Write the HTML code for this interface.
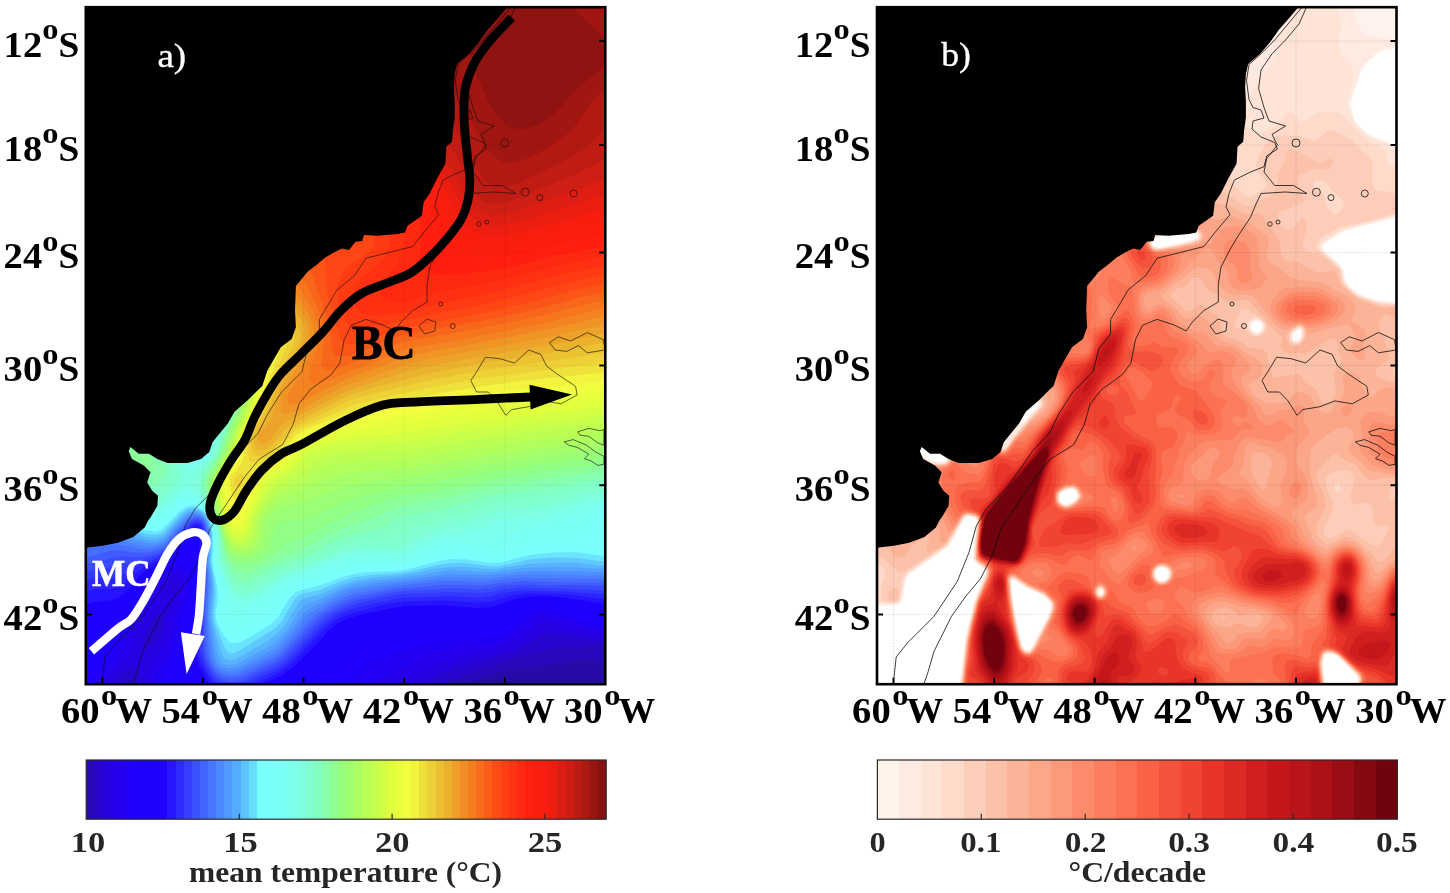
<!DOCTYPE html>
<html lang="en"><head><meta charset="utf-8"><title>Figure</title>
<style>html,body{margin:0;padding:0;background:#fff}svg{display:block}</style></head>
<body>
<svg width="1450" height="893" viewBox="0 0 1450 893">
<defs>
<clipPath id="ca"><rect x="85.8" y="7.2" width="519.5" height="677.0"/></clipPath>
<clipPath id="cb"><rect x="877.0" y="7.2" width="519.5" height="677.0"/></clipPath>
<linearGradient id="ga"><stop offset="0.0000" stop-color="#2808b4"/><stop offset="0.0156" stop-color="#2808b4"/><stop offset="0.0156" stop-color="#2805c8"/><stop offset="0.0312" stop-color="#2805c8"/><stop offset="0.0312" stop-color="#2802dc"/><stop offset="0.0469" stop-color="#2802dc"/><stop offset="0.0469" stop-color="#2600ea"/><stop offset="0.0625" stop-color="#2600ea"/><stop offset="0.0625" stop-color="#2300f2"/><stop offset="0.0781" stop-color="#2300f2"/><stop offset="0.0781" stop-color="#2000fb"/><stop offset="0.0938" stop-color="#2000fb"/><stop offset="0.0938" stop-color="#1e00ff"/><stop offset="0.1094" stop-color="#1e00ff"/><stop offset="0.1094" stop-color="#1e00ff"/><stop offset="0.1250" stop-color="#1e00ff"/><stop offset="0.1250" stop-color="#1e00ff"/><stop offset="0.1406" stop-color="#1e00ff"/><stop offset="0.1406" stop-color="#1f02ff"/><stop offset="0.1562" stop-color="#1f02ff"/><stop offset="0.1562" stop-color="#2716ff"/><stop offset="0.1719" stop-color="#2716ff"/><stop offset="0.1719" stop-color="#2f2bff"/><stop offset="0.1875" stop-color="#2f2bff"/><stop offset="0.1875" stop-color="#363eff"/><stop offset="0.2031" stop-color="#363eff"/><stop offset="0.2031" stop-color="#3c51ff"/><stop offset="0.2188" stop-color="#3c51ff"/><stop offset="0.2188" stop-color="#4364ff"/><stop offset="0.2344" stop-color="#4364ff"/><stop offset="0.2344" stop-color="#4876ff"/><stop offset="0.2500" stop-color="#4876ff"/><stop offset="0.2500" stop-color="#4c88ff"/><stop offset="0.2656" stop-color="#4c88ff"/><stop offset="0.2656" stop-color="#5199ff"/><stop offset="0.2812" stop-color="#5199ff"/><stop offset="0.2812" stop-color="#55abff"/><stop offset="0.2969" stop-color="#55abff"/><stop offset="0.2969" stop-color="#5dc3ff"/><stop offset="0.3125" stop-color="#5dc3ff"/><stop offset="0.3125" stop-color="#67ddff"/><stop offset="0.3281" stop-color="#67ddff"/><stop offset="0.3281" stop-color="#78ffff"/><stop offset="0.3438" stop-color="#78ffff"/><stop offset="0.3438" stop-color="#79fffb"/><stop offset="0.3594" stop-color="#79fffb"/><stop offset="0.3594" stop-color="#7bfff7"/><stop offset="0.3750" stop-color="#7bfff7"/><stop offset="0.3750" stop-color="#7cfff3"/><stop offset="0.3906" stop-color="#7cfff3"/><stop offset="0.3906" stop-color="#7dffec"/><stop offset="0.4062" stop-color="#7dffec"/><stop offset="0.4062" stop-color="#7fffdd"/><stop offset="0.4219" stop-color="#7fffdd"/><stop offset="0.4219" stop-color="#80ffce"/><stop offset="0.4375" stop-color="#80ffce"/><stop offset="0.4375" stop-color="#82ffc0"/><stop offset="0.4531" stop-color="#82ffc0"/><stop offset="0.4531" stop-color="#88ffa9"/><stop offset="0.4688" stop-color="#88ffa9"/><stop offset="0.4688" stop-color="#8fff92"/><stop offset="0.4844" stop-color="#8fff92"/><stop offset="0.4844" stop-color="#95ff7b"/><stop offset="0.5000" stop-color="#95ff7b"/><stop offset="0.5000" stop-color="#a0ff6e"/><stop offset="0.5156" stop-color="#a0ff6e"/><stop offset="0.5156" stop-color="#acff62"/><stop offset="0.5312" stop-color="#acff62"/><stop offset="0.5312" stop-color="#b8ff56"/><stop offset="0.5469" stop-color="#b8ff56"/><stop offset="0.5469" stop-color="#c4ff4c"/><stop offset="0.5625" stop-color="#c4ff4c"/><stop offset="0.5625" stop-color="#d2ff45"/><stop offset="0.5781" stop-color="#d2ff45"/><stop offset="0.5781" stop-color="#dfff3d"/><stop offset="0.5938" stop-color="#dfff3d"/><stop offset="0.5938" stop-color="#e9ff3e"/><stop offset="0.6094" stop-color="#e9ff3e"/><stop offset="0.6094" stop-color="#f1ff40"/><stop offset="0.6250" stop-color="#f1ff40"/><stop offset="0.6250" stop-color="#f2f33f"/><stop offset="0.6406" stop-color="#f2f33f"/><stop offset="0.6406" stop-color="#eee03c"/><stop offset="0.6562" stop-color="#eee03c"/><stop offset="0.6562" stop-color="#edcf37"/><stop offset="0.6719" stop-color="#edcf37"/><stop offset="0.6719" stop-color="#ecbe32"/><stop offset="0.6875" stop-color="#ecbe32"/><stop offset="0.6875" stop-color="#ebae2d"/><stop offset="0.7031" stop-color="#ebae2d"/><stop offset="0.7031" stop-color="#ee9e28"/><stop offset="0.7188" stop-color="#ee9e28"/><stop offset="0.7188" stop-color="#f18d24"/><stop offset="0.7344" stop-color="#f18d24"/><stop offset="0.7344" stop-color="#f47d1f"/><stop offset="0.7500" stop-color="#f47d1f"/><stop offset="0.7500" stop-color="#f76d1c"/><stop offset="0.7656" stop-color="#f76d1c"/><stop offset="0.7656" stop-color="#fa5d19"/><stop offset="0.7812" stop-color="#fa5d19"/><stop offset="0.7812" stop-color="#fd4c16"/><stop offset="0.7969" stop-color="#fd4c16"/><stop offset="0.7969" stop-color="#ff3e14"/><stop offset="0.8125" stop-color="#ff3e14"/><stop offset="0.8125" stop-color="#ff3412"/><stop offset="0.8281" stop-color="#ff3412"/><stop offset="0.8281" stop-color="#ff2911"/><stop offset="0.8438" stop-color="#ff2911"/><stop offset="0.8438" stop-color="#ff1f0f"/><stop offset="0.8594" stop-color="#ff1f0f"/><stop offset="0.8594" stop-color="#fb1e0f"/><stop offset="0.8750" stop-color="#fb1e0f"/><stop offset="0.8750" stop-color="#f71e0f"/><stop offset="0.8906" stop-color="#f71e0f"/><stop offset="0.8906" stop-color="#eb1e10"/><stop offset="0.9062" stop-color="#eb1e10"/><stop offset="0.9062" stop-color="#db1e13"/><stop offset="0.9219" stop-color="#db1e13"/><stop offset="0.9219" stop-color="#cc1d14"/><stop offset="0.9375" stop-color="#cc1d14"/><stop offset="0.9375" stop-color="#bc1b13"/><stop offset="0.9531" stop-color="#bc1b13"/><stop offset="0.9531" stop-color="#ac1812"/><stop offset="0.9688" stop-color="#ac1812"/><stop offset="0.9688" stop-color="#991511"/><stop offset="0.9844" stop-color="#991511"/><stop offset="0.9844" stop-color="#861110"/><stop offset="1.0000" stop-color="#861110"/></linearGradient>
<linearGradient id="gb"><stop offset="0.0000" stop-color="#fff2eb"/><stop offset="0.0417" stop-color="#fff2eb"/><stop offset="0.0417" stop-color="#feeae1"/><stop offset="0.0833" stop-color="#feeae1"/><stop offset="0.0833" stop-color="#fee4d7"/><stop offset="0.1250" stop-color="#fee4d7"/><stop offset="0.1250" stop-color="#fedaca"/><stop offset="0.1667" stop-color="#fedaca"/><stop offset="0.1667" stop-color="#fdceba"/><stop offset="0.2083" stop-color="#fdceba"/><stop offset="0.2083" stop-color="#fcc1a9"/><stop offset="0.2500" stop-color="#fcc1a9"/><stop offset="0.2500" stop-color="#fcb499"/><stop offset="0.2917" stop-color="#fcb499"/><stop offset="0.2917" stop-color="#fca68a"/><stop offset="0.3333" stop-color="#fca68a"/><stop offset="0.3333" stop-color="#fc997a"/><stop offset="0.3750" stop-color="#fc997a"/><stop offset="0.3750" stop-color="#fc8b6b"/><stop offset="0.4167" stop-color="#fc8b6b"/><stop offset="0.4167" stop-color="#fc7e5e"/><stop offset="0.4583" stop-color="#fc7e5e"/><stop offset="0.4583" stop-color="#fb7151"/><stop offset="0.5000" stop-color="#fb7151"/><stop offset="0.5000" stop-color="#f96245"/><stop offset="0.5417" stop-color="#f96245"/><stop offset="0.5417" stop-color="#f5523b"/><stop offset="0.5833" stop-color="#f5523b"/><stop offset="0.5833" stop-color="#f14331"/><stop offset="0.6250" stop-color="#f14331"/><stop offset="0.6250" stop-color="#e93529"/><stop offset="0.6667" stop-color="#e93529"/><stop offset="0.6667" stop-color="#dd2a24"/><stop offset="0.7083" stop-color="#dd2a24"/><stop offset="0.7083" stop-color="#d11e20"/><stop offset="0.7500" stop-color="#d11e20"/><stop offset="0.7500" stop-color="#c5161c"/><stop offset="0.7917" stop-color="#c5161c"/><stop offset="0.7917" stop-color="#b81419"/><stop offset="0.8333" stop-color="#b81419"/><stop offset="0.8333" stop-color="#ab1116"/><stop offset="0.8750" stop-color="#ab1116"/><stop offset="0.8750" stop-color="#9b0c14"/><stop offset="0.9167" stop-color="#9b0c14"/><stop offset="0.9167" stop-color="#860811"/><stop offset="0.9583" stop-color="#860811"/><stop offset="0.9583" stop-color="#71030e"/><stop offset="1.0000" stop-color="#71030e"/></linearGradient>
</defs>
<g clip-path="url(#ca)">
<rect x="85.8" y="7.2" width="519.5" height="677.0" fill="#280aaa"/>
<g transform="scale(0.5)">
<path fill="#2807bd" d="M166 8l1050 0 0 1334-16-20-8-4-12-1-24 2-48 9-60 6-36 6-22 6-32 12-14 6-9 6-769 0z"/>
<path fill="#2804cf" d="M166 8l1050 0 0 1288-12-4-12-1-48 1-18 1-48 10-78 22-48 15-46 18-12 6-7 6-721 0z"/>
<path fill="#2801e2" d="M166 8l1050 0 0 1274-66-9-42-7-12 0-6 1-12 5-33 20-21 10-102 29-30 11-33 16-10 6-6 6-559 0-4-24-6-9-6-2-12 4-12 7-14 12-8 12-56 0zM346 1171l-4 1-2 7 6 0 0-7zM322 1226l-6 1-6 4-6 8-7 11-5 14-5 16-1 6 3 6 3 4 6-1 12-10 6-7 6-11 5-17 1-12-2-6z"/>
<path fill="#2600ec" d="M166 8l1050 0 0 1264-60-11-54-16-12-1-6 1-12 6-30 25-24 13-30 10-78 17-30 9-34 15-42 24-7 6-498 0-1-18 3-18 6-12 20-30 5-12 4-18 5-36 2-6 13-24 4-12 2-12-1-12-3-6-6-2-6 0-6 3-7 5-5 6-5 12-7 24-30 45-12 22-14 35-12 18-29 30-14 18-39 0z"/>
<path fill="#2200f4" d="M166 8l1050 0 0 1254-54-11-60-19-12-2-6 0-7 2-11 6-36 30-18 11-12 4-18 5-84 11-36 9-21 8-33 19-42 19-17 10-6 6-431 0 0-12 1-12 5-12 16-26 6-16 6-24 2-30 4-10 10-20 5-18 3-18-1-18-5-13-6-1-6 1-12 6-11 7-6 6-7 12-12 30-32 48-10 18-14 30-17 24-44 48-21 0z"/>
<path fill="#1f00fc" d="M166 8l1050 0 0 1246-42-9-72-22-12-3-6 1-12 3-12 6-36 29-12 8-12 5-18 4-18 2-84 5-24 3-18 5-42 15-36 9-12 5-15 8-24 24-9 6-30 8-12 4-331 0-2-12 1-6 2-6 14-24 6-18 9-36 1-26 1-4 8-12 3-8 6-43 1-21-1-19-2-5-4-7-6 1-30 20-12 9-6 7-8 12-13 30-37 54-20 36-16 24-14 18-12 12-18 13-12 7z"/>
<path fill="#1e00ff" d="M166 8l1050 0 0 1238-24-5-90-26-12-1-12 0-18 6-11 6-37 29-12 5-12 3-30 3-60-2-36 2-27 2-51 8-42 5-24 5-12 5-6 4-24 28-12 11-17 12-28 18-7 6-257 0-5-12 1-12 16-78 4-12 8-18-1-30 4-48 1-24-3-30-4-6-6 4-19 20-29 22-9 8-9 12-15 30-8 12-39 54-39 60-7 9-12 9-12 7-6 2z"/>
<path fill="#1e00ff" d="M166 8l1050 0 0 1229-18-3-78-21-23-5-13 0-12 1-18 6-18 9-30 22-18 6-24 2-72-5-42 0-36 3-87 10-25 6-14 8-10 10-25 30-13 12-21 18-25 18-7 6-204 0-12-30-3-24 1-18 3-18 6-18 8-18 1-6-4-24 0-12 6-60-1-48-2-6-4-3-6 2-6 5-16 20-11 12-25 18-13 12-9 12-16 30-18 26-32 34-9 12-30 48-13 12-12 5z"/>
<path fill="#1e00ff" d="M166 8l1050 0 0 1221-12-2-42-12-36-8-30-4-18 0-18 2-18 6-17 9-25 17-12 3-24 1-72-6-54 0-42 3-66 10-30 7-18 9-12 10-30 36-26 24-14 12-26 18-6 6-170 0-18-42-3-12 0-12 2-24 10-30 2-12-4-36 6-60-1-24 1-30-1-6-4-8-6 1-6 4-12 13-22 26-8 8-24 16-13 12-41 61-12 12-35 23-7 6-8 12-15 30-7 8-6 3z"/>
<path fill="#1e00ff" d="M166 8l1050 0 0 1211-84-17-30-4-24-1-18 2-18 4-15 5-27 14-18 6-24 0-72-6-54 1-36 2-43 7-53 12-12 5-12 7-12 11-30 33-36 36-18 14-32 20-139 0-20-42-4-12-2-12 2-24 9-36-3-42 6-60-2-24 2-30-1-12-2-12-6 0-6 3-12 11-30 37-12 10-24 15-11 8-10 12-27 38-12 13-6 4-12 6-30 7-12 4-18 13z"/>
<path fill="#2613ff" d="M166 8l1050 0 0 1201-84-13-30-3-36-1-30 5-19 5-23 9-18 4-24 1-60-5-78 1-24 3-66 14-30 9-12 5-12 7-13 12-23 25-48 48-18 13-31 16-8 6-111 0-22-42-4-12-3-18 1-18 8-36-3-42 5-60-2-24 2-48 0-7-2-5-4-3-6 1-12 10-12 14-18 23-12 12-44 27-13 12-21 26-18 15-6 3-12 3-30 3-24 6z"/>
<path fill="#2d26ff" d="M166 8l1050 0 0 1191-84-10-72-2-32 3-46 13-18 2-18 0-42-3-18-1-78 2-32 5-64 16-18 6-19 8-11 8-12 10-64 66-13 12-19 13-36 17-7 6-86 0-12-18-13-24-5-12-2-12 0-18 5-42-2-42 5-54-2-30 3-48-2-12-2-6-6-3-9 3-15 15-24 30-12 12-12 9-36 18-16 12-14 15-12 8-18 6-36 2-24 4z"/>
<path fill="#3439ff" d="M166 8l1050 0 0 1182-84-7-84-2-31 3-35 8-18 3-18 0-48-3-96 4-62 12-24 6-22 8-18 8-13 8-21 18-64 66-10 9-15 9-37 18-19 12-60 0-13-14-7-10-12-24-5-18-1-18 4-42-1-42 4-54-2-36 2-42 0-13-2-5-4-5-6-2-6 1-6 5-18 18-24 30-12 10-12 7-36 14-30 17-12 5-18 4-30 1-24 5z"/>
<path fill="#3a4bff" d="M166 8l1050 0 0 1173-84-4-36 0-54-2-30 3-36 7-18 1-60-2-96 4-18 3-54 12-24 7-18 7-18 9-12 8-20 16-64 68-18 14-78 37-4 1-21 0-17-10-12-12-14-26-5-18-1-18 2-36-1-42 3-60-2-30 3-48-2-18-4-6-3-3-6-2-6 2-6 3-18 18-24 30-12 10-12 7-36 11-60 13-54 9z"/>
<path fill="#405cff" d="M166 8l1050 0 0 1164-84-2-36 1-36-2-24 0-30 3-42 6-18 0-48-2-54 4-42 2-18 3-60 13-18 5-18 7-18 9-21 13-21 18-56 60-16 14-66 33-18 5-12 1-12-3-6-2-12-10-6-8-7-12-5-12-3-12-1-18-1-72 4-60-3-36 3-54-2-12-2-6-6-6-7-2-6 1-6 3-18 18-24 29-12 10-12 7-18 5-18 2-18 1-18-1-12 1-42 12-24 3z"/>
<path fill="#466eff" d="M166 8l1050 0 0 1157-120-1-54-2-24 2-54 7-72-2-48 5-48 3-72 14-24 7-18 8-24 13-20 13-14 12-56 62-18 15-60 29-18 5-12 1-12-2-6-3-12-9-6-9-5-11-5-18-2-18-2-60 3-66-3-42 3-36 0-18-2-12-7-12-4-3-6-2-6 1-6 3-21 19-27 33-6 4-12 6-18 4-18 0-12 0-24-4-12-1-12 2-36 10-18 1z"/>
<path fill="#4a7fff" d="M166 8l1050 0 0 1150-78-1-42 0-48-1-18 0-66 8-54-2-18 0-102 10-72 14-18 5-18 8-24 13-24 15-14 11-58 66-12 9-66 32-12 4-12 1-12-2-6-3-6-4-6-6-7-13-5-18-5-72 3-60 0-18-4-36 3-36 0-18-3-16-6-10-6-4-6-2-6 0-6 3-20 17-28 34-12 8-12 3-12 2-18-1-42-8-12-1-18 1-24 4-18-2z"/>
<path fill="#4e8fff" d="M166 8l1050 0 0 1144-78-2-84-1-24 1-36 5-24 2-72-2-108 12-42 6-30 6-24 7-18 8-42 24-12 8-8 6-19 24-33 38-11 10-7 5-65 31-13 4-12-1-12-4-7-5-7-12-5-18-8-72 4-60-1-18-4-30 3-42 0-18-4-18-7-11-6-4-6-2-6 0-6 2-6 4-18 17-26 30-10 7-18 4-12 0-18-3-78-20-12-6-18-16z"/>
<path fill="#52a0ff" d="M166 8l1050 0 0 1137-78-3-72 0-30 2-54 6-84-2-72 10-72 8-36 7-18 4-18 7-66 35-8 7-17 24-16 18-25 28-12 8-54 27-12 5-12 1-6 0-8-3-9-6-4-6-4-12-11-72 0-12 4-48-2-24-4-30 3-54-2-18-5-12-5-6-7-6-6-2-6 0-6 1-6 4-12 10-12 13-18 22-6 5-12 5-18 1-18-3-18-5-36-13-15-8-15-12-18-25-6-6-6-3z"/>
<path fill="#58b3ff" d="M166 8l1050 0 0 1130-18 0-54-4-24 0-66 1-66 9-24 0-42-3-24 0-24 3-48 9-78 8-36 6-30 10-42 21-24 8-6 4-11 10-14 24-11 15-27 27-15 11-60 31-12 2-6-1-6-2-6-4-6-13-15-72 0-12 4-48-1-18-6-36 3-54-3-20-4-10-4-6-10-9-6-2-12 1-9 4-9 8-16 16-14 18-8 6-4 3-12 3-18-1-17-5-16-6-21-9-14-9-16-14-25-34-7-6-10-4z"/>
<path fill="#5fc9ff" d="M166 8l1050 0 0 1123-18 0-48-6-30 0-66 3-60 10-18 0-48-4-24 0-30 3-60 12-72 7-30 5-30 9-42 19-30 7-6 3-6 5-6 9-14 25-8 12-14 15-18 15-51 30-15 8-12 2-6-1-6-3-6-12-18-66 0-12 4-42-2-24-6-36 2-54-1-12-3-12-6-13-6-6-6-5-6-2-12 0-7 2-11 9-36 38-6 4-12 3-18-2-29-10-13-6-17-12-19-18-24-32-12-9-12-5z"/>
<path fill="#6be4ff" d="M166 8l1050 0 0 1114-18 0-42-6-30-1-36 1-30 3-18 4-36 8-12 2-18-1-48-6-24 0-24 3-54 13-18 3-66 5-36 5-24 8-42 17-30 6-12 5-7 5-5 7-16 29-7 12-13 13-66 41-11 6-7 3-6-1-6-3-6-10-17-43-3-12-1-12 4-30 0-12-1-18-8-42 2-36 0-18-4-24-8-16-6-6-12-7-6-2-12 2-6 4-10 7-32 35-6 4-12 3-18-2-25-10-23-14-17-16-24-30-11-12-14-10-12-5z"/>
<path fill="#78fffe" d="M166 8l1050 0 0 1103-18 0-48-7-42 1-48 5-18 4-34 10-14 2-18-1-42-6-30-1-30 5-48 13-18 4-18 2-54 2-30 4-24 7-42 16-36 9-12 4-13 12-21 36-5 6-9 9-48 29-18 9-12 2-6-2-6-5-12-18-6-13-4-11-1-12 4-24 0-18-2-18-7-30-1-12 1-36-1-24-4-18-3-9-6-10-6-7-12-7-12-2-6 2-6 2-10 7-26 27-12 11-12 3-18-2-21-9-18-12-20-18-24-30-11-12-14-11-12-6-6-2z"/>
<path fill="#7afffa" d="M166 8l1050 0 0 1081-18 3-54-2-54 5-36 7-42 14-12 3-16-1-50-8-18-1-18 1-30 7-43 13-17 5-18 2-54 0-30 4-24 7-42 15-36 9-12 4-12 8-6 6-24 34-9 8-9 8-36 21-18 8-12 1-6-2-6-4-6-7-6-9-6-16 3-42-3-24-9-36 1-48-2-24-3-12-5-13-6-9-6-7-6-5-12-5-12 1-6 2-10 6-26 26-12 10-12 4-6 0-12-3-16-7-18-12-19-18-25-30-12-13-18-14-12-6-6-2z"/>
<path fill="#7bfff7" d="M166 8l1050 0 0 1038-12 4-18 11-18 7-102 18-18 6-36 14-12 3-12 0-54-8-30 0-18 2-18 5-44 16-22 6-12 1-54-1-24 3-18 4-54 18-42 11-12 6-18 12-24 29-12 11-12 9-30 16-18 6-6 0-6-2-6-4-6-6-5-11-1-6 3-24-1-12-4-24-10-36 0-48-2-24-8-24-8-14-6-6-6-6-12-6-12 0-6 2-12 7-36 32-12 5-14-2-16-6-17-12-13-12-31-36-17-17-18-14-12-6-6-2zM394 821l-6 2-6 5-6 8-5 12-1 12 3 18 5 12 4 5 6 5 6 2 6-1 6-3 4-8 3-12 1-24 0-12-3-12-5-7-6-2z"/>
<path fill="#7cfff3" d="M166 8l1050 0 0 1017-18 3-36 18-18 7-90 22-54 21-18 0-30-5-18-2-30 2-18 3-18 5-47 19-19 6-12 1-54-3-18 2-24 4-60 21-36 10-18 7-17 12-25 25-12 10-12 8-12 6-18 6-12 3-6 0-8-4-3-6-1-4-2-20-6-30-13-42-1-48-4-30-4-13-6-13-12-16-12-10-6-3-6-2-6 0-6 2-12 7-37 30-11 5-6 0-12-3-14-8-16-12-42-47-18-17-18-13-18-8zM400 799l-9 1-9 4-12 11-9 15-4 18 1 19 7 23 5 10 6 8 6 5 6 2 6 1 12-5 6-5 5-10 4-18 5-36 0-18-4-12-4-6-6-4z"/>
<path fill="#7dffed" d="M166 8l1050 0 0 1002-12 1-18 5-42 17-24 8-84 20-42 14-18 2-54 0-18 2-18 4-24 7-47 22-13 5-12 1-36-3-24-1-18 2-24 5-59 21-49 17-18 10-30 25-18 12-18 7-12 1-12-4-6-5-6-8-6-14-19-53-2-54-2-18-3-12-10-24-6-9-12-14-12-9-6-3-6 0-6 1-12 7-36 29-12 4-12-1-13-5-17-13-12-11-36-40-18-17-18-13-18-8zM406 784l-6-1-12 2-8 3-10 7-6 6-9 11-6 12-3 12-1 12 0 12 3 12 6 18 9 18 7 10 6 6 6 3 6 1 12-4 12-9 6-7 5-12 12-60 1-18 0-7-5-11-4-6-7-6z"/>
<path fill="#7fffdf" d="M166 8l1050 0 0 988-18 3-18 4-54 18-30 8-42 7-48 4-12 3-30 13-78 14-30 10-38 20-16 7-12 2-42-4-18 0-24 3-18 4-24 8-41 16-49 17-18 10-30 23-12 7-12 5-12 2-12-3-6-3-6-5-7-11-20-48-4-60-2-12-6-18-7-18-8-14-24-29-6-4-6-2-6 2-12 8-24 22-12 8-12 4-12-1-12-5-18-14-44-47-22-20-18-13-18-8zM412 771l-12-1-12 2-12 4-12 8-11 10-9 12-6 12-3 12-1 12 1 18 2 12 6 18 9 18 12 20 12 15 6 1 6-1 12-9 18-18 6-8 6-18 14-60 1-18-2-12-2-6-5-8-6-6-6-4z"/>
<path fill="#80ffd1" d="M166 8l1050 0 0 975-42 7-60 16-30 6-30 4-42 3-18 3-48 18-60 14-24 8-24 11-30 18-12 4-12 1-36-2-18 0-18 2-18 4-30 10-48 21-48 16-18 10-30 20-18 9-12 2-6-1-12-5-6-6-6-9-17-37-2-12-5-48-5-24-9-24-25-42-3-12 1-12 2-6 8-12 19-23 7-13 21-78 1-18-2-12-5-12-10-12-12-7-12-4-12-1-18 4-18 8-12 9-12 13-9 14-5 12-3 12-1 12 2 18 3 12 6 18 23 48 3 12 0 6-5 12-9 12-11 12-12 8-12 4-6 0-6-1-12-6-18-14-42-44-18-17-24-17-18-8z"/>
<path fill="#81ffc4" d="M166 8l1050 0 0 962-48 7-84 17-72 8-30 6-54 18-84 23-18 7-30 16-12 4-60 5-24 5-18 5-24 10-50 23-46 16-17 8-31 20-12 5-12 3-6-1-6-2-6-3-12-17-13-23-3-12-6-48-4-18-10-31-20-41-3-12 2-12 5-12 21-30 5-12 25-84 1-18-3-12-5-12-10-14-12-9-12-4-18-2-18 3-18 8-18 12-13 12-12 18-6 12-3 12-2 12 1 18 3 12 5 18 23 48 3 12 0 6-4 12-7 12-7 6-11 7-6 1-12 0-6-2-12-7-18-16-36-38-18-17-24-15-18-8z"/>
<path fill="#86ffb1" d="M166 8l1050 0 0 948-54 7-84 15-84 11-24 6-84 23-82 16-8 3-24 14-12 5-60 15-30 10-24 12-42 22-36 11-12 5-42 23-12 6-12 2-6 0-6-2-6-5-12-15-9-16-3-10-12-62-10-30-16-36-3-12 0-12 4-12 6-12 16-24 5-12 13-42 10-30 5-18 1-12-4-18-8-18-10-12-15-10-18-5-18 0-18 4-18 8-18 12-16 15-13 18-6 12-6 18-2 18 1 12 7 24 23 54 2 12-4 12-4 7-9 5-9 3-6-1-6-1-12-7-18-15-36-39-12-11-24-15-12-6-12-4z"/>
<path fill="#8cff9b" d="M166 8l1050 0 0 934-60 7-162 25-30 5-84 21-84 14-18 7-36 16-48 17-24 10-24 12-44 24-40 15-54 27-12 4-12-1-6-2-12-9-6-7-8-15-4-13-10-47-10-30-14-36-2-12 0-12 4-12 5-12 15-24 6-12 30-91 0-17-6-24-6-14-12-14-12-9-18-6-18-1-18 3-24 9-18 11-19 15-16 18-8 12-9 18-5 18-2 12 1 12 2 12 4 12 16 34 3 14 1 6-2 6-2 5-6 3-6 0-6-1-12-7-13-12-25-30-16-14-24-13-18-7-12-3z"/>
<path fill="#92ff85" d="M166 8l1050 0 0 919-78 9-150 23-108 22-72 11-24 5-40 13-50 20-30 14-54 28-36 15-42 29-18 10-12 3-12 1-12-2-12-6-6-6-8-16-12-48-20-60-4-18 1-12 3-12 6-12 14-24 5-12 14-42 14-36 5-18-1-18-5-23-9-19-9-12-12-9-12-5-12-3-12-1-12 1-18 4-18 7-18 9-14 9-14 12-22 24-18 30-16 39-6 8-6 3-6 0-12-2-60-15z"/>
<path fill="#9aff74" d="M166 8l1050 0 0 903-102 13-138 20-108 20-90 14-36 8-48 16-66 29-18 7-12 2-24 0-12 3-7 3-5 6-6 24-5 12-9 12-7 6-15 9-12 3-18-1-12-5-6-6-6-10-10-38-21-66-3-18 1-12 3-12 25-48 13-42 17-42 3-12 0-24-5-24-5-13-6-11-11-12-7-5-12-6-18-4-24 0-12 3-18 5-30 15-16 10-15 12-24 24-35 45-12 9-12 4-12 1-42-5z"/>
<path fill="#a6ff68" d="M166 8l1050 0 0 887-156 20-108 16-114 20-102 13-42 9-24 8-48 19-48 12-18 7-12 9-11 12-2 6-2 24-3 12-6 11-6 6-12 7-12 3-12 0-12-5-6-6-6-11-26-89-4-24 1-12 3-12 24-48 14-42 18-42 2-12 1-24-5-30-4-13-6-11-12-15-6-5-12-6-12-4-12-1-24 1-30 8-30 13-30 19-24 20-36 36-18 14-12 5-12 3-18 0-18-1z"/>
<path fill="#b1ff5d" d="M166 8l1050 0 0 871-144 18-138 20-114 18-108 10-24 3-18 5-18 6-42 20-36 13-18 9-18 16-14 17-4 12-1 18-3 12-2 7-6 8-12 8-12 2-12-1-6-4-6-6-4-8-15-42-11-48-3-18 1-12 3-12 25-48 11-36 18-42 6-18 1-30-4-30-3-12-5-12-8-12-6-6-8-6-10-5-12-4-12-2-24 0-30 7-30 12-30 16-26 18-46 38-18 12-12 5-12 3-12 2-18 0z"/>
<path fill="#bcff52" d="M166 8l1050 0 0 855-144 17-144 20-108 17-30 3-90 5-24 3-18 4-18 7-36 23-41 18-13 10-12 13-19 25-5 12-5 30-6 12-7 7-12 5-12-1-6-4-6-7-18-48-9-42-2-18 1-12 3-12 22-42 14-42 18-42 5-18 3-36-3-30-7-24-3-6-9-12-15-12-12-5-12-3-12-1-18 0-30 6-30 10-35 17-29 18-50 35-18 10-24 8-24 2z"/>
<path fill="#c8ff4a" d="M166 8l1050 0 0 838-156 18-138 19-108 17-114 6-30 4-24 5-18 9-35 26-37 20-12 10-12 16-18 30-6 14-5 24-6 12-6 6-7 4-6 0-6-1-6-4-6-9-16-38-9-48 0-18 4-18 22-42 13-42 19-42 5-18 4-36-1-36-6-24-5-11-6-8-6-6-12-8-12-6-12-3-12-1-18 0-30 5-30 10-36 16-35 18-49 31-18 9-24 8-24 3z"/>
<path fill="#d4ff43" d="M166 8l1050 0 0 822-174 19-120 16-114 18-78 4-36 3-38 6-22 6-12 6-6 4-30 28-38 22-10 9-6 8-24 47-13 38-5 8-6 4-6 2-7-2-5-4-6-9-13-29-8-48-1-18 4-18 20-36 5-12 13-42 19-42 4-18 5-42 0-36-2-12-4-12-6-11-5-7-7-6-12-8-12-5-12-3-24-2-30 4-30 8-36 14-114 57-24 8-24 4z"/>
<path fill="#e1ff3c" d="M166 8l1050 0 0 805-204 22-96 13-114 18-90 7-54 10-30 7-12 6-6 4-24 26-12 10-34 20-8 7-6 9-23 50-13 36-6 7-6 3-6-1-6-5-6-8-10-20-2-9-6-39 0-18 2-12 4-10 20-38 13-42 19-42 7-24 7-48 2-36-1-12-3-12-4-10-6-8-6-6-12-9-12-6-12-4-12-2-18-1-30 3-30 7-30 11-36 16-66 31-24 10-24 7-24 4z"/>
<path fill="#e9ff3e" d="M166 8l1050 0 0 788-174 17-54 6-180 29-90 10-66 14-30 8-10 4-8 6-20 24-16 15-34 21-8 8-7 10-29 72-6 11-6 5-6 0-6-4-9-12-5-12-6-42 0-18 4-18 17-30 6-12 12-42 22-48 7-30 10-54 2-30-1-12-4-12-7-12-5-6-7-7-12-7-24-9-12-3-18-1-30 3-24 5-30 10-132 54-30 9-24 3z"/>
<path fill="#f2ff40" d="M166 8l1050 0 0 771-198 19-54 7-162 28-78 10-30 7-77 22-13 6-6 6-20 24-12 12-10 8-27 16-9 9-6 10-12 32-18 40-6 8-6 2-6-3-6-7-4-13-6-42 0-18 4-12 21-36 13-48 20-42 11-36 15-66 3-24 0-12-3-12-7-12-4-6-9-8-12-8-24-10-13-4-17-2-30 1-24 5-24 7-102 40-42 15-30 8-30 3z"/>
<path fill="#f2f43f" d="M166 8l1050 0 0 754-210 21-132 21-156 27-96 31-12 5-12 7-6 5-19 23-12 12-11 10-24 14-9 6-8 12-13 35-12 25-6 10-6 4-6-3-6-19-6-34 1-12 5-14 15-22 6-12 9-42 6-14 14-28 7-18 27-96 4-18 2-18-3-12-3-6-8-12-10-10-11-8-25-12-12-3-18-3-18-1-18 1-24 4-24 7-84 32-54 18-36 9-36 4z"/>
<path fill="#eee13c" d="M166 8l1050 0 0 736-174 18-72 9-126 22-114 23-30 8-84 32-12 6-12 8-36 40-12 9-30 17-6 6-6 8-11 30-7 14-6 7-6 1-6-8-6-20 0-12 1-6 5-8 13-16 7-12 3-12 3-30 4-11 24-49 18-56 23-70 2-12 0-12-5-12-9-12-11-11-12-9-12-7-18-8-12-3-18-4-30 0-24 3-30 7-84 33-48 15-42 9-42 4z"/>
<path fill="#edd137" d="M166 8l1050 0 0 717-204 25-54 7-108 20-138 31-18 7-96 42-13 9-26 30-15 14-12 7-12 5-12 3-6 0-4-5-2-17 0-19 2-12 5-12 20-36 21-60 27-66 6-18 0-12-3-12-13-18-17-16-24-16-24-10-30-6-30 0-24 3-24 7-24 8-60 24-42 13-48 9-24 3-24 0zM484 947l3 3 0 6-3 12-6 8-6-1-3-7-1-6 2-6 8-7z"/>
<path fill="#ecc233" d="M166 8l1050 0 0 696-60 10-180 25-42 7-90 18-132 32-18 7-102 49-12 9-31 35-11 9-12 5-6 1-6 0-6-3-4-6-3-12 0-12 4-12 24-42 21-58 32-68 5-12 3-12-1-12-8-18-15-18-20-18-26-16-24-9-30-5-30 0-24 4-24 6-24 9-54 22-36 11-54 10-24 1-30 1z"/>
<path fill="#ebb22e" d="M166 8l1050 0 0 675-78 16-180 29-96 18-42 10-108 29-24 10-102 52-17 13-19 24-12 11-12 5-6 0-6-2-6-11 0-15 6-12 13-18 7-12 21-60 38-72 5-12 3-12 0-6-2-12-9-18-16-20-24-22-24-15-24-10-30-6-30 0-24 3-30 8-30 11-48 21-30 9-30 5-30 3-24 1-30-1z"/>
<path fill="#eda32a" d="M166 8l1050 0 0 657-90 20-180 31-96 18-36 9-96 30-36 14-59 31-48 24-16 12-15 22-6 6-6 4-6 2-6-2-5-8 0-6 3-6 16-18 8-12 4-12 6-24 6-18 10-19 32-59 7-18 3-12-2-18-4-12-6-12-12-16-12-14-24-22-24-14-24-9-30-6-30 1-24 3-30 8-30 11-50 22-22 7-30 5-30 2-30 1-30-3z"/>
<path fill="#f09426" d="M166 8l1050 0 0 640-18 3-84 20-96 18-156 28-42 10-120 41-30 14-67 36-17 7-12 3-6-1-5-3-1-3-1-15 2-12 7-18 25-42 15-30 8-24 1-18-3-12-6-16-18-27-18-22-12-12-24-17-18-9-24-7-24-3-30 1-24 3-30 8-30 11-54 24-24 7-24 3-30 1-30-1-30-4z"/>
<path fill="#f38421" d="M166 8l1050 0 0 624-24 4-78 19-84 17-177 32-33 8-24 7-108 42-48 23-41 22-13 4-6-1-3-3-2-6 0-6 5-12 24-40 16-38 7-24 1-12-1-12-3-12-7-18-11-18-14-20-12-15-12-13-12-10-12-8-18-9-24-7-24-4-30 0-30 5-30 7-30 11-54 23-24 7-24 3-30 0-24-2-36-5z"/>
<path fill="#f6751d" d="M166 8l1050 0 0 607-30 6-90 23-84 18-198 36-18 6-58 24-80 32-18 6-12 1-6-1-3-2-2-6 3-18 13-42 4-18-1-24-4-18-4-12-9-18-21-34-12-17-18-19-12-9-12-7-18-7-24-6-24-3-30 1-24 3-30 7-30 9-60 24-30 7-24 2-24 0-24-3-36-6z"/>
<path fill="#f8661b" d="M166 8l1050 0 0 591-42 9-90 23-89 19-187 34-18 6-54 25-36 13-30 10-12 2-6-1-6-3-4-8 6-42-1-24-4-24-9-24-26-54-16-24-18-18-12-8-12-6-18-7-24-5-24-3-30 1-30 3-30 6-30 9-60 21-31 7-23 2-24-1-24-3-36-8z"/>
<path fill="#fb5618" d="M166 8l1050 0 0 574-54 12-84 23-96 21-180 33-18 6-66 29-18 5-18 2-6-1-6-3-6-11-5-42-6-24-29-84-8-18-7-12-11-12-12-9-18-10-24-8-24-5-24-3-30 0-30 2-36 7-30 7-66 20-36 6-18 1-24-2-24-4-36-9z"/>
<path fill="#fe4715" d="M166 8l1050 0 0 557-66 15-78 22-96 22-174 33-24 7-54 20-12 4-12 1-12-3-6-6-6-15-22-81-3-24-2-42-5-18-8-12-7-6-23-12-26-8-24-6-30-4-36-1-36 1-36 5-36 6-78 19-36 4-18 0-24-2-24-5-36-11z"/>
<path fill="#ff3b13" d="M166 8l1050 0 0 540-72 16-75 20-99 25-78 14-102 22-54 14-12 2-12-1-6-1-6-4-6-8-5-9-11-30-2-12-1-12 1-12 3-12 9-18 12-12 36-25 6-6 6-11 1-6-1-11-6-12-12-12-12-6-18-5-18-2-60-1-84-4-48 0-60 5-36 5-84 15-24 2-18 1-18-2-24-4-60-18z"/>
<path fill="#ff3112" d="M166 8l1050 0 0 522-90 19-156 41-84 16-72 18-18 3-30 3-18 1-12-1-13-4-8-6-4-6-5-12 0-11 1-7 5-12 8-12 34-30 15-18 8-18 3-12 1-12-1-12-4-12-10-17-14-13-10-6-12-6-12-3-18-4-18-1-24 0-198 13-48 4-78 10-42 2-30-2-24-4-72-23z"/>
<path fill="#ff2810" d="M166 8l1050 0 0 503-108 22-78 21-54 12-102 19-60 17-12 3-12-1-10-2-12-6-5-6-1-6 0-6 5-12 25-36 11-24 4-12 3-18 0-18-1-12-4-12-5-12-14-18-20-16-24-12-18-6-18-4-18-2-24 0-30 2-84 11-48 5-144 11-48 0-30-2-30-6-84-27z"/>
<path fill="#ff1e0f" d="M166 8l1050 0 0 482-36 8-84 16-66 18-36 7-36 5-36 4-30 1-24-1-12-3-5-3-6-6-2-6-3-18 2-42-2-24-4-18-10-21-18-21-22-18-26-15-24-9-18-5-18-3-18-1-24 0-36 3-84 14-48 5-84 5-66 0-36-3-36-7-36-10-66-23z"/>
<path fill="#fb1e0f" d="M166 8l1050 0 0 459-42 10-84 17-54 14-24 5-18 2-24 1-24 0-18-2-12-3-12-5-12-9-6-8-9-19-11-42-7-18-11-18-16-18-20-18-25-18-27-14-24-9-36-7-18-2-24 0-42 4-90 16-36 4-60 2-60-2-48-5-42-9-42-13-72-26z"/>
<path fill="#f71e0f" d="M166 8l1050 0 0 434-48 13-72 16-54 14-24 5-30 3-18-1-18-3-12-4-12-5-12-8-7-8-11-18-17-42-6-12-14-18-23-25-24-21-24-17-24-13-24-9-18-6-24-4-24-3-24 0-48 5-84 16-24 3-48 1-54-4-49-7-50-12-45-15-84-32z"/>
<path fill="#ec1e10" d="M166 8l1050 0 0 407-48 15-138 37-30 4-18 0-12-1-12-3-12-5-12-8-9-8-13-18-20-42-12-19-24-29-24-24-18-15-24-17-24-13-24-10-24-7-24-5-24-2-24-1-48 4-96 16-30 1-30-1-42-5-42-8-42-11-44-16-94-39-12-4z"/>
<path fill="#de1e12" d="M166 8l1050 0 0 378-54 20-132 40-18 4-18 1-18-1-12-3-18-9-16-16-8-13-21-41-12-18-21-29-24-27-24-22-24-18-24-14-24-11-24-8-24-6-24-3-24-2-48 2-84 9-30 2-36-1-42-5-46-11-44-14-48-19-96-42-12-3z"/>
<path fill="#cf1e14" d="M166 8l1050 0 0 346-54 23-72 25-60 22-30 6-18 0-12-2-12-6-6-4-12-12-40-74-20-30-24-30-18-19-24-21-18-13-24-15-24-11-24-8-24-6-24-4-24-3-30-1-108 5-42-1-30-4-24-4-54-14-50-19-112-49-24-10-12-3z"/>
<path fill="#c01c13" d="M166 8l1050 0 0 307-31 17-24 12-129 54-19 6-13 3-12 1-12-2-12-5-6-5-6-8-28-56-18-30-23-36-23-30-22-24-24-21-24-17-24-14-18-8-24-8-24-7-30-5-48-5-126-3-42-6-39-8-33-9-36-13-132-56-30-11-18-5z"/>
<path fill="#b21912" d="M301 8l915 0 0 237-6 7-15 20-11 12-16 14-26 16-46 24-60 28-18 6-12 2-12 1-6-1-12-6-12-15-58-105-20-31-18-24-18-20-24-23-24-19-24-14-18-9-24-9-24-7-30-7-48-6-126-10-36-6-30-6-36-9-42-13-53-21z"/>
<path fill="#a11611" d="M520 8l696 0 0 170-12 7-11 9-10 12-21 31-14 17-16 16-19 14-35 22-30 13-24 6-18-1-8-4-10-7-18-22-18-31-39-72-21-34-18-25-12-15-16-16-14-12-17-12-19-11-24-11-24-8-30-8-48-8-120-14z"/>
<path fill="#8f1310" d="M880 8l261 0 9 12 18 18 48 43 0 49-48 35-18 17-36 40-24 19-18 10-18 6-18 1-12-2-12-7-12-11-12-16-13-22-23-54-10-30-13-48-4-12-7-12-14-17z"/>
</g>
<path d="M85.8,41.1H605.3M85.8,145.1H605.3M85.8,252.6H605.3M85.8,365.4H605.3M85.8,485.2H605.3M85.8,614.5H605.3M102.3,7.2V684.2M202.9,7.2V684.2M303.5,7.2V684.2M404.2,7.2V684.2M504.8,7.2V684.2" fill="none" stroke="#000" stroke-width="0.7" stroke-opacity="0.16" stroke-dasharray="1.2 1.6"/>
<polygon fill="#000" points="85.8,7.2 506,6 506,8.4 497.6,18.5 487.5,30 479,42 469,53.7 457,64 454.7,74 453.9,87 454.7,100.8 454.7,117.6 453,130 452,141.8 446.3,146.8 445.4,163.6 437,178.7 429.5,193.8 423.6,202.2 421.9,215.7 407.6,225.7 405,232.5 397.6,234 377.4,235.8 364,235 362.3,240.9 355.6,241.7 348.9,250 342,248.4 333.7,252.6 325.3,257.6 317,264.4 307.6,271.8 295.9,286 295,310.4 295.9,327.2 291.7,338.9 280.8,347.3 274,359 267.3,370.8 262.3,386 258,390 248,400 234.5,411.8 227.8,423.6 219.4,433.7 212.7,442 209.3,452 201,458.9 187.5,463 167.3,463 157.3,458.9 148.9,453.8 138.8,453.8 130.4,447 128.7,451.3 132,458.9 143.8,465.6 150.5,472.3 147.2,482.4 152.2,490.8 158,495.8 157.3,505.9 150.5,517.6 148.5,520 144.7,527.6 133.3,537 118,542.8 102.8,545.7 87.6,547.6 85,548 85.8,548"/>
<path d="M511.8,6L496.8,24L483.5,40L469.8,53.8L457.8,64.5L455.3,80.6L457.8,99.5L461.8,107.5L469.8,110L472.8,118L461.8,121L460.8,129L469.8,137L483.5,142.5L486.2,149L475.5,156L472.8,166.7L459.3,172L443.2,180L437.8,193.5L434.8,207L438.8,214.6L424.2,232L412.6,246.6L389.3,252.4L366,258.2L354.4,275.7L336.8,290L328.2,304.8L319.4,319.4L319.4,334L307.8,348.5L301.8,371.8L281.6,392L266.8,415.4L258.3,433L241.8,450.4L215.6,488L195.2,508.6L185.1,526L177.8,552.3L166.1,581.4L142.8,616.3L116.6,642.5L105,657L102.1,684M515.8,6L507.8,24L494.3,40L480.8,53.8L469.8,70L467.4,88.7L472.8,107.5L477.8,121L494.3,126L480.8,134.4L486.2,145L475.5,158.6L472.8,172L483.5,185.5L502.3,185.5L515.8,193.5L493.8,192L469.8,193.5L464.8,204L459.2,217.5L447.5,235L438.8,249.5L429.8,267L427.1,284.4L427.1,302L412.6,310.6L400.8,322.3L395.1,331L383.5,325.2L366,319.4L351.4,325.2L344.2,339.7L339.8,363L331.1,374.7L310.7,389.2L299,403.8L293.2,424.2L282.6,444.6L259.3,459L244.8,476.6L227.3,502.8L209.8,529L201.1,555.2L189.4,578.5L174.8,596L160.3,616.3L151.6,633.8L142.8,651.3L137,671.6L132.7,684M476.6,371.8L485.4,357.2L499.8,358.7L514.5,363L528.8,350L540.8,354.3L546.5,366L558.1,374.7L575.6,386.3L577.1,395L561.1,403.8L543.6,400.9L528.8,406.7L511.6,409.6L505.8,415.4L496.8,400.9L488.3,392L476.6,392L470.8,380.5ZM549.4,342.6L558.1,336.8L570.8,341L587.3,332.5L603.3,339.7L604.8,350L587.3,352.8L578.5,345.6L566.8,351.4L555.2,350ZM418.8,326L426.8,319L435.8,322L434.8,331L424.8,334ZM577.7,431.8L588.9,428.4L600,430.7L603.9,429.6L603.9,445.2L597.8,443L588.9,436.3L579.9,435.2ZM564.2,441.9L573.2,439.6L586.6,445.2L595.6,452L603.9,456.4L603.9,464.3L597.8,465.4L591.1,460.9L584.4,458.7L588.9,454.2L577.7,447.5L568.7,445.2Z" fill="none" stroke="#101010" stroke-width="0.8" stroke-opacity="0.8" stroke-linejoin="round"/><circle cx="525.2" cy="192.2" r="4" fill="none" stroke="#101010" stroke-width="0.8" stroke-opacity="0.8"/><circle cx="539.8" cy="197.6" r="3" fill="none" stroke="#101010" stroke-width="0.8" stroke-opacity="0.8"/><circle cx="573.6" cy="193.5" r="3.5" fill="none" stroke="#101010" stroke-width="0.8" stroke-opacity="0.8"/><circle cx="504.8" cy="143" r="4" fill="none" stroke="#101010" stroke-width="0.8" stroke-opacity="0.8"/><circle cx="486.8" cy="222" r="2" fill="none" stroke="#101010" stroke-width="0.8" stroke-opacity="0.8"/><circle cx="478.8" cy="224" r="2.2" fill="none" stroke="#101010" stroke-width="0.8" stroke-opacity="0.8"/><circle cx="452.8" cy="326" r="2.5" fill="none" stroke="#101010" stroke-width="0.8" stroke-opacity="0.8"/><circle cx="440.8" cy="304" r="2" fill="none" stroke="#101010" stroke-width="0.8" stroke-opacity="0.8"/>
<path d="M511.8,17.6C508,21.7 495.3,34.3 489,42C482.7,49.7 477.9,56.3 474,63.8C470.1,71.3 467.3,79.5 465.6,87C463.9,94.5 464.1,101.8 464,109C463.9,116.2 464.1,122.3 464.7,130C465.2,137.7 466.4,146.6 467.3,155C468.2,163.4 469.7,172.8 469.8,180.4C469.9,188 469.4,194.1 468,200.5C466.6,206.9 464.7,212.8 461.4,219C458.1,225.2 453.1,231.3 448,237.5C442.9,243.7 437.2,250.1 431,256C424.8,261.9 417.8,268.5 411,272.8C404.2,277.1 398.3,278.3 390,281.8C381.7,285.3 369.6,288.8 361.4,293.6C353.2,298.4 347.4,304 341,310.4C334.6,316.8 329.5,324.7 322.8,332C316.1,339.3 308,347 301,354C294,361 286.1,367.8 280.8,374C275.5,380.2 273.4,383.9 269,391C264.6,398.1 258.8,408.7 254.7,416.9C250.6,425.1 248.5,433.1 244.6,440.4C240.7,447.7 235.5,453.2 231,460.5C226.5,467.8 221.2,476.8 217.7,484C214.2,491.2 210.8,498.4 210,504C209.2,509.6 210.6,514.9 212.7,517.6C214.8,520.3 219.2,521.1 222.8,520C226.4,518.9 230.6,515.9 234.5,511C238.4,506.1 241.8,497.5 246.3,490.8C250.8,484.1 255.5,476.8 261.4,470.6C267.3,464.4 275.1,458 281.5,453.8C287.9,449.6 289.4,450.7 300,445.2C310.6,439.7 331,427.3 344.8,420.6C358.6,413.9 371.6,408.1 382.8,405C394,401.9 396,403.1 412,402.2C428,401.2 459.2,400.2 479,399.3C498.8,398.4 522.3,397.4 531,397" fill="none" stroke="#000" stroke-width="8.8" stroke-linejoin="round"/>
<polygon fill="#000" points="529.5,384.8 530.6,409.4 572,394.4"/>
<path d="M91.4,651.3C95.8,647.5 111.3,633.9 118,628.5C124.7,623.1 127.3,623.5 131.4,619C135.5,614.5 138.7,608.8 142.8,601.8C146.9,594.8 151.9,585 156,577C160.1,569 163.7,560.3 167.5,554C171.3,547.7 174.9,542.6 179,539C183.1,535.4 188.5,533.2 192.3,532.4C196.1,531.6 199.4,532.6 201.8,534.3C204.2,536 206.4,538.8 206.6,542.8C206.8,546.8 203.8,550.7 202.8,558C201.9,565.3 201.5,577.1 200.9,586.6C200.3,596.1 199.8,607.1 199,615C198.2,622.9 196.5,630.8 196,634" fill="none" stroke="#fff" stroke-width="8.4" stroke-linejoin="round"/>
<polygon fill="#fff" points="180.9,632.3 204.7,636 186.6,674"/>
</g>
<g clip-path="url(#cb)">
<rect x="877.0" y="7.2" width="519.5" height="677.0" fill="#fff"/>
<g transform="scale(0.5)">
<path fill="#fff1eb" d="M1748 8l1050 0 0 87-30 6-12 6-25 21-7 12-19 54-3 12 2 18 7 18 4 6 17 16 12 8 19 6 35 16 0 139-108 29-36 22-6 4-3 6 2 6 31 27 6 7 4 8 2 16 4 8 5 6 15 13 12 6 24 8 24 4 24 2 0 765-85 0 3-12-2-6-36-36-7-6-11-2-6 0-3 2-3 5-1 7 0 24 4 24-732 0 12-96 6-30 3-7 8-35 22-54 0-7-4-5-17-12-3-6 2-36 4-20 1-22-7-6-6-1-6 0-6 6-27 49-5 6-76 54-5 6-3 6-6 36-4 9-6 5-6 1-42 2zM2305 488l7 6 6 1 34-7 38-10 4-2 1-6-5-4-6-1-54 6-12 3-6 3-6 5zM2510 642l-3 2-5 6 0 6 8 8 6 0 6-5 2-3 0-6-8-8zM2600 660l-6 0-7 8-1 6 2 7 6 1 7-8 1-6 0-6zM2072 808l-12 9-7 7-6 12 1 6 27-30zM1838 892l-1 4 1 6 4 6 8 7 10 5 8 3 12 1 6 0 7-4 0-6-8-6-11-3-22-15-8-1zM2149 980l-5-1-12 1-10 6-3 6 0 6 3 6 10 4 12-3 6-5 4-8-1-6zM2318 1136l-6 6-1 6 1 6 6 7 6 1 6-1 6-7 1-6-1-6-6-6-6-1zM2024 1161l-1 5 1 18 6 40 12 58 6 16 6 2 6-1 6-8 17-35 13-24 6-18-2-6-4-7-11-11-31-13-24-16zM2197 1184l1 2 6 0 1-2-1-2-6 0z"/>
<path fill="#feeae1" d="M1748 8l73 0-4 12 27 12 12 3 18 1 24 5 24 2 18 4 18-2 42-9 36 0 24 7 28 13 8 3 60 10 36 14 36 9 9 6 9 13 6-1 12-7 6-2 6-1 24 5 12 0 30-3 18-3 6 0 24 11 12 3 30-2 24 4 12-3 7-8 6-18 9-18 6-24 7-18 3-18 200 0 1 12 2 12 11 26 6 8 6 4 24 4 18 5 24 0 0 8-6 2-7 3-17 3-5 3-7 3-29 27-4 6-14 42-9 24-2 6 2 12 6 18 6 12 20 19 12 8 28 9 20 10 6 2 0 136-54 15-42 10-18 6-36 23-3 2-2 6 2 6 34 30 5 6 2 6 2 12 4 12 5 6 17 15 12 6 30 9 18 3 24 1 0 764-84 0 3-12-3-7-41-41-13-3-6 0-5 3-3 12 1 24 3 24-730 0 11-90 6-30 12-48 22-54 1-6-2-3-18-13-5-8 2-30 3-19 2-29-2-3-4-3-8-2-6 0-6 5-29 51-5 6-76 54-5 6-2 6-9 43-6 5-6 1-42 2zM2397 470l-7-6-6-1-54 7-19 6-6 6-1 6 6 6 8 2 36-7 36-9 6-4zM2504 644l-4 6 0 6 5 6 5 4 6 0 6-4 3-6 0-6-3-6-6-3-6 0zM2600 658l-6 1-9 9-1 6 2 6 2 2 6 1 6-4 3-5 1-6-1-6zM2078 805l-6 0-18 16-6 8-7 13-2 6 3 3 36-39 1-6zM1837 890l-1 6 2 9 9 9 10 6 11 4 12 1 12-2 2-3 0-6-7-6-19-8-13-10-11-2zM2150 980l-6-2-12 1-12 7-2 6 0 6 2 6 12 6 14-6 7-6 3-6zM2318 1135l-7 7-1 6 1 6 7 7 6 1 6-1 7-7 1-6-1-6-7-7-6-1zM2024 1159l-2 7 2 25 6 38 12 56 6 14 6 2 6-1 6-8 15-30 16-30 5-13 0-11-6-8-9-10-33-14-24-16zM2198 1189l6 0 2-5-2-5-6 0-1 5zM2019 14l0-6 32 0-1 6-4 6-4 4-6 2-6 0-6-3-3-3z"/>
<path fill="#fee3d7" d="M2673 8l2 12 8 24-1 12-5 18 2 24 5 15 6 6 7 3 6 6 1 12 3 12-1 12-4 16-4 8-4 18 4 18 7 18 9 12 24 21 12 5 15 4 33 16 0 130-59 16-37 9-18 6-36 23-5 4-3 6 3 6 34 30 5 6 3 6 3 18 2 6 6 7 18 15 12 6 30 10 18 2 24 2 0 762-83 0 3-12-2-6-42-42-14-4-6 0-6 4-3 12 0 12 4 36-728 0 10-90 7-30 12-48 22-54 1-6-3-5-18-13-4-6 1-24 6-48 0-6-3-4-6-3-6-2-6 1-5 2-31 54-6 6-66 46-11 8-4 6-2 6-7 39-2 3-4 4-12 2-36 1 0-1122 6-2 24-11 6-1 12 1 12 4 6 4 6 4 9 12 9 10 6 3 12 4 6-1 36-19 6-1 6 4 9 12 8 6 13 4 24-1 36-12 6 0 6 2 18 15 6 3 6 0 12-3 18-11 6-1 12-1 18 3 24 0 12 4 24 13 18 5 6 3 6 7 6 13 7 5 11 3 12 0 30-6 24-3 6-1 18-10 6-1 30 11 42 8 27 17 33 16 4 2 8 10 6 3 6-1 6-5 24-23 13-26 11-12 17-24 3-6 1-6-2-18 1-6 2-6 17-18 8-12 11-42zM2398 470l-5-6-3-1-6-1-54 7-12 3-8 4-6 6-1 6 3 5 6 3 12 0 30-6 36-9 8-5zM2502 644l-3 6 0 6 5 8 6 3 6 0 8-5 3-6 0-6-5-7-6-4-6 0zM2600 656l-6 1-6 5-4 6-1 6 1 6 4 4 6 0 6-3 4-7 0-12zM2078 802l-6 1-18 16-6 8-15 27-21 26-6 9 0 8 6-3 14-22 34-39 20-21 1-6zM1836 890l-1 6 1 6 2 5 7 7 11 7 12 4 12 2 6-1 6-2 4-4 0-6-4-4-24-11-12-9-6-2-6-1-6 1zM2117 992l0 6 2 6 7 5 6 2 16-7 6-6 3-6-5-12-8-3-12 1-12 7zM2315 1136l-5 6-1 6 1 6 2 3 6 5 6 1 6-1 3-2 5-6 1-6-1-6-2-3-6-5-6-1-6 1zM2024 1158l-2 2-1 6 3 30 6 36 12 54 6 14 6 2 6-1 7-9 15-30 16-30 5-12 1-6-1-6-7-10-8-8-34-15-24-17zM2198 1178l-2 6 2 6 6 1 2-7-1-6z"/>
<path fill="#fedaca" d="M1778 159l12-3 12 2 18 11 6 2 18-1 6 2 12 11 6 4 6 0 10-5 20-16 30-16 12-3 24 0 24-3 24 7 36 5 12-1 12-6 6 1 14 8 10 2 12 0 6 2 3 2 15 20 33 34 21 39 6 8 6 4 6 2 6-4 8-13 4-5 17-13 13-15 6-5 12-7 12-5 6 0 24 0 12-1 18-6 6 0 6 1 6 5 12 13 6 3 6 2 18 1 12 5 16 15 8 5 12 3 36 6 18 9 6 1 12-4 16-8 8-6 12-18 6-4 6-1 6 2 6 10 6 5 6 1 6-2 6-3 10-8 8-4 18-3 12 0 12 4 6 3 48 48 6 5 17 7 15 12 3 6 3 18 4 8 18-3 0 97-67 18-41 10-12 5-30 19-9 8-1 6 2 6 38 34 5 8 3 18 2 6 8 9 18 15 6 3 36 12 42 4 0 761-82 0 3-12-2-6-5-6-37-36-9-4-12-1-7 5-4 18 5 42-726 0 10-90 7-30 12-48 20-48 3-12-4-6-17-12-4-6 1-24 5-54-3-6-12-3-6 0-7 3-29 52-6 7-66 45-13 10-6 12-5 32-4 10-2 3-12 1-12 0-24-3 0-1012 6-4 5-5 13-17zM2399 470l-4-6-5-3-6 0-54 6-12 4-10 5-6 6 0 6 4 7 6 2 12 0 30-6 36-9 6-3 3-3zM2510 637l-6 3-5 4-3 6 1 6 3 6 4 4 6 3 6 0 6-3 4-4 3-6 0-6-3-6-4-3-6-4zM2600 655l-7 1-7 6-4 6-1 6 2 6 5 6 6 0 6-4 5-8 1-12-3-6zM2079 800l-7 1-6 4-12 12-6 7-17 30-25 33-2 3 0 6 2 2 6-2 16-24 32-37 21-23 2-6zM1835 890l-2 6 1 6 4 6 6 7 12 8 12 4 12 1 12-2 5-6 0-6-5-5-18-8-18-12-12-3-6 1zM2117 992l1 12 8 6 6 2 6-2 11-6 6-6 3-6-2-6-3-6-3-2-6-2-12 2-6 2-8 6zM2314 1136l-5 6-1 6 1 6 3 5 6 4 6 1 6-1 4-3 5-6 1-6-1-6-3-4-6-5-6 0-6 1zM2024 1156l-3 4 0 6 2 30 6 36 14 60 5 9 6 2 6 0 4-5 4-6 31-60 4-12 1-6 0-6-4-6-10-12-12-6-24-10-24-17zM2198 1176l-2 2-1 6 2 6 1 2 6 0 2-2 1-6-1-6-2-2z"/>
<path fill="#fdcdb9" d="M1748 239l12-5 18-13 18-15 12-6 12-3 12-2 6 0 18 11 12 2 12-3 24-10 12-3 18-2 24 0 12-1 6-3 12-10 6 0 6 3 12 12 18 15 6 12 5 6 7 3 6 0 7-3 6-6 17-22 6-4 6-1 12 2 45 31 15 15 22 33 6 6 8 6 12 5 6 0 12-5 5-6 8-12 5-5 20-13 16-13 12-5 12-1 6 2 5 5 4 6 5 12 5 18 7 12 15 12 5 6 3 18 2 6 5 6 6 6 10 6 6 1 8-1 4-2 6-7 3-15-2-24 1-6 4-6 5-6 7-4 6-1 6 1 10 4 4 6 8 18 2 12-2 6-8 12-2 6 0 7 12 24 9 11 9 8 6 4 6 1 6-2 23-11 5-6 1-6-2-6-14-18-4-12 0-6 4-12 12-24 5-6 6-5 12-5 18-3 18 0 12 2 24 7 6 0 6-2 18-15 6-2 6 0 6 2 30 16 16 17 20 18 4 6 3 6-2 30 4 18 3 5 6 3 24 3 18 3 0 37-24 6-9 3-15 3-5 3-13 3-10 3-20 3-9 3-15 2-6 4-6 3-3 3-21 10-9 14 0 6 4 6 41 36 3 6 5 24 10 11 18 15 18 7 24 8 18 2 24 2 0 759-81 0 3-12-2-6-5-6-37-36-10-4-12-2-6 4-2 2-3 18 4 42-724 0 10-90 5-24 12-48 22-54 2-12-4-8-15-10-5-6 0-18 6-60-4-7-12-3-6 0-8 4-28 49-6 8-72 48-10 9-5 6-2 6-4 36-2 6-7 2-6 1-20-3-2-6 0-18 2-12 5-12 1-6-1-6-3-6-6-5-12-3zM2629 362l-4 6 2 6 7 6 11 6 4 6 3 18 3 6 11 11 6 1 6-3 7-9 3-6-1-6-3-6-22-18-7-12-7-4-6-3-6 0zM2401 470l-5-7-6-3-6 0-54 6-12 3-12 7-5 6 0 6 5 8 6 2 12-1 30-5 30-7 12-4 5-5zM2504 636l-8 8-2 6 0 6 4 6 6 6 6 4 6 0 6-4 6-6 3-6 0-6-4-6-5-5-6-4-6-1zM2600 653l-6 2-10 7-3 6-2 6 1 6 8 8 6 0 6-4 4-4 3-6 0-12-2-6zM2082 800l-4-2-6 1-12 10-9 9-18 30-27 36-3 6 0 6 3 4 6-3 18-25 30-35 19-19 4-6 2-6zM1834 890l-2 6 1 6 3 6 8 9 12 7 12 4 18 0 7-2 5-6 0-6-6-7-18-7-18-12-12-3-6 1zM2672 968l-3 6 3 8 6 3 3-5 1-6-2-6-2-1zM2116 992l1 12 3 3 6 4 6 1 6-1 12-6 6-7 3-6-2-6-3-6-4-3-6-2-12 2-6 3-9 6zM2312 1136l-4 6-1 6 1 6 4 6 6 4 6 1 6-1 6-4 4-6 1-6-1-6-4-6-6-3-6-1-6 1zM2024 1155l-4 5 2 30 6 42 14 61 6 9 6 2 6 0 6-6 31-60 7-18 1-12-4-6-11-12-36-17-24-17zM2198 1175l-3 3-1 6 2 6 2 2 6 1 3-3 1-6-1-6-3-3z"/>
<path fill="#fcc1a9" d="M1748 270l18-6 24-1 5-3 5-6 6-24 8-6 6-1 24 4 18 0 12-2 30-8 12 2 12 8 12 15 9 24 3 6 6 5 6 2 6-1 10-6 14-17 6-4 42-3 24 1 30 5 42 4 12 3 10 5 13 12 31 18 12 3 6 0 11-3 25-13 6-2 6-1 16 10 26 8 12 7 10 9 7 12 5 6 8 6 23 12 35 12 26 15 42 29 12 6 6 0 6-1 18-11 18-5 6-5 9-22 2-24 11-18 2-6 2-12 2-6 8-2 12 2 13 6 23 15 6 2 6-1 18-7 6 3 0 6-3 6-7 6-8 2-12-3-6 0-18 7-11 6-5 6-2 6 1 6 12 24 1 6-2 6-24 12-21 6-4 6 0 12 2 6 5 8 6 5 6 1 6-1 6-4 12-15 6-4 6 10 1 6-1 12-5 18-1 6 1 6 4 6 7 5 18 2 18 11 20 18 5 6 2 18 7 12 26 22 30 12 18 5 12 1 24 0 0 51-6 4 0 7 6 7 0 46-6 3-7 10 1 7 6 5 6 2 0 217-12 1-4 2-3 6-1 18 2 2 18-4 0 37-1 1 1 3 0 333-80 0 3-12-2-6-5-6-37-36-11-5-12-2-6 3-3 4-3 18 5 42-723 0 9-84 6-30 12-48 22-54 2-12-2-6-3-3-14-9-5-6 0-18 6-60-3-6-2-1-12-4-6 0-6 3-36 57-7 5-35 22-42 27-6 2-6-3-30-26-6-2-12-1 0-48 6-4 2-3 2-6 1-18 3-6 10-11 12-8 4-5 2-5 1-7-1-6-2-6-5-6-11-5-24-10zM1976 349l-6 0-5 7-1 6 6 6 6-6 2-6zM2300 488l6 9 6 2 12-1 30-5 30-6 12-4 6-7 0-6-3-6-3-3-6-2-6 0-60 7-6 2-13 8-5 6zM2481 620l-3 6-9 24 2 6 3 1 12-4 1 3 12 12 5 5 6 1 12-1 6-5 5-6 0-12-2-6-9-9-18-9-6-6-6-3-6 0zM2600 652l-6 1-11 9-5 6 0 12 4 6 6 4 6 0 6-4 5-6 4-6 0-12-2-6zM2084 799l-6-3-6 1-12 10-11 11-17 30-27 36-3 6 0 6 4 5 6-2 18-25 30-35 21-21 4-6 2-6zM1832 890l-1 6 3 12 5 6 11 9 18 7 12 0 12-2 8-8-1-6-7-8-18-8-18-11-12-3-6 1zM2660 948l-7 8-2 6 1 6 3 12 9 18 3 12-3 12-16 35-1 7 2 6 5 5 6 1 6-1 24-14 6-1 6 1 42 29 6 2 6-1 5-3 14-24 2-6 0-6-3-1-18 0-6-3-4-8-1-24-3-6-10-4-6 0-12 3-6 0-5-5-2-6 0-12 5-12 2-12-2-12-4-6-6-3-12 0-12 1zM2115 992l2 12 7 6 8 3 6-1 12-6 8-8 2-6-2-6-3-6-5-4-6-1-12 1-12 7-3 3zM2311 1136l-3 6-1 6 1 6 4 7 6 4 6 1 6-1 7-5 4-6 1-6-1-6-3-6-8-4-6-1-6 1zM2024 1154l-5 6 2 30 8 48 10 48 3 9 6 8 6 2 6 0 7-7 31-60 7-18 1-12-3-6-13-13-35-17-25-17zM2198 1174l-4 4-1 6 2 6 3 3 6 1 4-4 1-6-1-6-4-4zM2784 416l8-2 6 0 0 3-12 2zM1790 1175l6 2 1 19-1 3-5 3-11 0-7-6 2-6 3-7 6-5z"/>
<path fill="#fcb499" d="M1748 308l6-1 6-4 13-19 5-1 24 5 12-1 6-3 18-18 6-2 6 2 9 6 33 17 6 0 6-5 12-15 6-5 6 1 6 9 4 10 1 6-2 12 1 6 14 18 2 6-2 12-8 18-1 6 2 12 2 6 5 6 6 2 6 0 12-2 8-6 5-6 13-30 0-12-5-18 0-6 9-8 9-16 5-6 10-6 6-2 6 1 12 5 6 1 6-1 30-11 18-2 12 0 12 3 6 4 18 21 6 2 18 1 24 10 12 0 30-9 9 1 15 9 24-1 6 2 6 4 4 4 8 13 5 5 13 9 18 9 30 9 12 6 8 9 10 16 12 9 6 2 18 2 6 3 18 12 12 4 12 1 12-2 7 1 5 6 6 12 23 30 3 12 2 18 2 7 6 7 6 3 12 0 12 4 28 15 8 3 12 0 12-3 6 0 6 2 7 22 4 6 25 21 12 8 24 7 6 4 18 4 6 0 4-2 20 0 0 23-6-1-18-8-6 1-6 9-3 6-1 6 0 6 9 18 11 36-1 6-5 6-16 12-4 6 0 6 2 6 7 6 37 10 0 190-30-2-8 0-10 4-6 0-6-2-6-3-6-5-12-17-6-5-18-8-18-13-6 3-24 23-7 11-1 6 1 12 14 30 3 12-2 12-15 30-2 12 2 12 3 6 5 6 5 4 6 2 6-1 18-9 12-4 6 0 6 1 18 11 22 20 14 17 6 1 6-3 6-5 8-10 10-16 6-4 0 284-80 0 4-12-2-6-5-6-37-36-12-6-12-2-6 3-4 5-3 12 0 6 5 42-721 0 9-84 6-30 12-48 22-54 2-12-2-6-4-4-12-8-6-6 0-18 6-60-3-6-3-2-6-2-12-2-6 3-4 3-32 52-12 9-24 11-3-6 5-24 0-18-2-9-6-9-16-12-20-32-5-22-3-6-8-6-38-20-12-4 0-42 6-3 3-3 2-6-2-6-3-4-6-4zM1910 315l-6 5-1 6 1 2 6 2 3-4 2-6zM2324 398l-6 4-5 14 0 6 2 6 3 4 6 3 6-7 0-24zM2405 470l-4-6-5-5-6-2-6-1-24 5-30 2-12 3-12 8-7 8 0 6 4 6 3 4 6 2 12-1 24-4 48-10 9-9zM2342 589l0 7 16 12 14 14 6 1 6-2 12-12 6 0 18 14 15 9 3 6 6 26 2 4 7 6 23 6 22 15 24 3 6 2 6 6 7 34 5 13 6 3 24-5 24-2 3 3 7 12 18 12 6 6 7 18 6 6 7 2 6-3 6-7 5-10 1-6-4-24 1-12 3-7 10-17 0-6-6-18-3-18-1-1-6-2-6 1-6 3-15 11-27 15-18-1-18 1-8-3-6-6-1-6 4-12-1-6-24-22-12-17-24-26-8-7-10-2-24 4-6 0-6-2-13-12-17-7-6-4-11-19-7-4-6-1-6 3-12 13-6 4-13 3-8 6zM2600 651l-6 1-15 10-7 12 1 6 9 11 6 2 12-2 9-11 2-6 0-12-2-6zM1832 734l-6 1-6 5-3 6 1 6 2 4 6 4 6 0 6-2 7-6 2-6-3-7-6-4zM2084 795l-6-3-6 2-6 4-14 14-8 12-13 24-27 36-3 6 0 6 4 6 7-2 18-24 24-28 30-30 4-6 1-6-1-6zM1831 890l-2 6 1 6 6 12 8 7 12 7 12 3 18-1 6-1 4-3 5-6 0-6-4-6-5-3-18-8-18-12-12-3-6 1zM2150 975l-6-2-12 2-12 7-4 4-2 12 2 6 4 5 6 4 6 1 6-1 12-6 9-9 2-6-2-6-3-6zM2324 1130l-6 1-6 3-5 8-1 6 1 6 5 8 6 4 6 1 6-1 8-6 4-6 1-6-1-6-3-6-9-5zM2024 1153l-3 1-3 6 4 42 11 60 7 30 3 6 7 6 4 2 6 0 8-8 31-60 7-18 1-12-3-6-14-14-33-16-27-18zM2198 1173l-5 5-1 6 2 6 4 4 6 0 5-4 1-6-1-6-5-5zM2443 1232l1 6 6-1 1-5-1 0-6-1zM1847 1064l2 6-3 6-20 14-18 22-6 3-6 0-6-2-6-7-3-6-1-6 2-6 4-6 28-26 6-4 6-1 12 6z"/>
<path fill="#fca689" d="M1748 339l12 0 6-3 18-14 30-12 36-6 12 1 6 3 5 6 7 18 8 12 28 21 5 9 4 18 3 6 6 6 12 7 6 1 12 0 12-3 6-3 12-10 8-10 14-30 6-30 3-6 5-6 6-4 18-5 48-21 12-3 12 1 7 2 5 6 10 18 5 6 9 8 10 4 26 7 18 9 6 1 6-5 7-12 5-3 6-2 6 2 12 10 6 3 6 1 18-5 6 4 7 8 5 4 20 8 16 14 6 2 24 1 12 3 5 4 3 6 2 30 3 6 6 6 11 7 12 4 6 0 18-5 6-1 24 7 13 6 34 24 4 6 1 6-4 24 1 12 4 6 19 12 24 19 12 4 54 7 6 3 12 9 25 12 9 6 5 6 5 12 0 6-6 18 1 6 21 12 5 6 2 6-1 6-4 6-1 6 4 24-1 6-4 4-6 0-6-3-8-7-4-6-1-6 1-4 8-14 1-6-11-24-4-1-12 1-30 9-36 9-6-7-1-5-5-4-6-3-6 1-18 10-6 0-6-2-12-7-6-7-22-30-16-18-12-6-28 0-12-3-11-9-12-12-7-18-5-6-7-4-6-2-12-1-6 2-6 4-18 17-18 10-6 4-18 18 0 6 7 6 18 12 17 19 6 3 6 1 6-1 12-4 6 0 6 3 13 15 13 24 5 6 11 4 18 4 6 3 18 15 18 9 10 7 4 6 1 6 0 12-4 6-5 5-14 7-4 6 1 6 3 6 8 11 6 4 12 7 12 2 30-1 8-5 10-12 6-4 6-1 12 4 6 3 4 4 8 16 6 8 6 5 6 3 6 0 6-3 6-6 21-29 2-6 0-6-4-18 1-6 4-4 6-3 9 1 11 6 4 6 4 12 6 12 8 10 6 3 6-5 6-8 6-4 6-3 12 1 18 7 0 166-12 0-42-6-9-5-17-18-16-12-4-6-1-6 1-6 9-18-1-6-3-6-7-4-6-1-12 2-6 2-18 11-24 19-6 7-2 6-3 24 2 24 4 18 10 30 1 6-2 6-4 6-18 12-3 6 15 42 6 9 11 9 7 4 6 0 24-13 12-3 6 0 12 3 13 9 15 18 14 31 6 3 6-3 24-23 6-4 6-2 0 256-79 0 4-12-2-6-4-6-39-37-12-6-12-2-6 3-5 6-3 12 0 6 5 42-720 0 10-84 5-28 14-56 21-48 2-12-2-6-5-5-12-8-5-5-1-6 2-30 4-42-2-6-4-3-12-4-6 0-6 2-5 5-7 13-21 29-3 6-6 4-6-4 0-18-6-20-7-10-17-15-15-27-3-12 2-12 4-10 10-14 3-12 23 0 18-2 6-4 4-6 0-6-4-6-6-5-17-7-19-12-6-2-12 0-4 2-5 6-1 6 1 12 5 12-9 6-11 17-6 2-8-1-10-6-17-24-1-6 1-24-3-12-4-6-6-6-6-4-6-2zM2312 376l-7 4-7 24-9 18 0 6 3 6 5 6 9 6 12 4 12 0 8-4 4-6 3-24 4-18-1-12-3-6-3-3-12-1zM2407 470l-2-6-9-8-6-2-12 1-18 4-30 1-6 1-4 3-8 4-6 4-8 10 0 6 3 6 5 5 6 2 6 0 36-5 42-9 7-5 4-6zM1838 722l-6-1-6 0-6 3-10 10-6 12-1 6 5 14 6 11 6 2 12-4 12-8 15-15 3-6-1-6-4-6-7-6zM2090 782l-6-2-6 0-6 3-12 14-15 21-15 29-27 37-4 12 4 6 3 2 6-3 18-24 30-33 24-19 10-13 2-12-2-12zM2510 904l-5 4-2 6-2 12 0 12 9 22 6 10 6 6 6 3 4-5 4-18 7-24 1-6-2-6-4-6-8-6-14-4zM2150 974l-6-2-12 2-12 7-5 5-2 12 2 6 5 6 6 4 6 1 6-1 12-6 10-10 2-6-2-6-4-7zM2318 1130l-6 3-6 9-1 6 1 6 6 9 6 4 6 1 6-1 6-3 7-10 2-6-1-6-4-6-4-3-6-3-6-1zM2024 1152l-4 2-2 3 0 9 4 42 10 54 8 30 2 6 6 7 6 2 6 0 9-9 34-66 4-12 0-12-2-6-15-16-31-14-29-19zM2198 1172l-6 6-1 6 2 6 5 5 6 0 6-5 1-6-1-6-6-6zM2423 1232l3 10 6 7 6 4 12 2 6 0 18-8 6-1 12 6 12 2 6-1 6-2 6-5 4-8-2-6-8-4-6-1-12 0-18 6-14-13-10-4-6-2-12 2-6 2-8 8z"/>
<path fill="#fc997a" d="M1748 351l18 1 18-4 6 0 24 9 6 0 6-7 2-12 5-6 11-2 12 2 6 4 6 6 30 37 13 19 12 12 11 9 12 7 24 2 6-1 6-4 26-25 4-5 21-55 3-6 6-5 24-15 12-5 12-2 24 0 6 1 6 3 20 17 16 11 36 12 6 4 12 15 6 3 6 0 8-3 9-6 7-7 8 1 10 6 6 5 6 11 2 8 1 6-2 6-7 9-18 9-5 6 1 6 6 6 16 6 23 12 14 6 1 6-14 12-4 6 1 6 3 6 6 6 6 2 6 0 18-3 24-2 6-3 24-2 18-5 12 1 12-18 6-7 12-7 12-3 12-1 12 3 12 7 11 8 5 6 3 6 0 30 1 18 4 9 8 9 3 6-1 6-10 15-6 3-6 1-30 1-12-3-6-4-3-7-3-18-3-6-16-18-11-20-6-9-6 1-18 13-18 19-15 20-21 15-12 11-12 7-18 3-6 3-3 3-3 6-1 6 1 8 6 7 6 0 12-7 6-1 6 0 6 2 14 9 15 24 7 5 24 14 18 1 6 4 12 18 6 4 30 5 6 2 6 5 25 26 2 6-2 6-14 12-2 6 1 12 3 6 8 12 24 24 9 15 4 3 8 0 18-9 24-3 12-8 6-1 7 3 2 6-2 18 1 6 10 18 0 6-2 6-18 18-4 6-1 6-1 24 2 6 12 13 6 11 4 18 0 12-1 6-3 8-6 6-15 10-6 6-1 6 3 6 13 18 8 18 7 12 6 6 21 17 6 3 6-1 24-16 12-4 12 2 12 6 6 5 9 12 6 12 7 30 2 4 6 3 6-1 6-5 18-22 12-8 6-1 0 246-78 0 3-12-1-6-4-6-40-38-12-6-12-1-8 3-3 6-3 12-1 6 6 42-719 0 10-84 4-24 15-60 23-54 0-6-2-6-5-6-10-6-7-6-1-6 1-24 5-48-2-6-5-4-12-4-6 0-6 2-6 6-12 19-12 12-4-7-10-24-5-6-17-12-5-6-11-18-2-12 1-6 11-20 6-16 6-2 24-5 6-3 5-8 0-6-2-6-9-6-14-6-22-14-12-2-6 0-7 4-4 6-2 12-5 9-12 6-6 1-5-4-7-11-2-13 2-11 8-13 1-6-2-6-10-12-4-6 0-6 4-18-3-6-12-6-12-1-12 2 0-72 6-3 4-4 3-6 0-6-1-6-6-5-6-1 0-153 12-4 7-5 11-11 15-7 7-6-1-6-3-5-6-6-6-2-18 13-6 2-12 1zM1850 386l-8 0-4 2-3 4 2 18-10 24 0 12 2 6 3 4 6 3 7-1 5-2 4-4 2-6 2-18 2-6 8-13 0-11-4-6zM1772 448l-3 4-2 6 2 6 9 10 6 3 4-7 0-6-4-10-6-5zM1898 512l3 6 3 3 6 2 24-1 6 0 7-4 5-6 1-6-1-6-6-5-6-1-12 0-12 3-9 3-8 6zM1988 624l-1 2 3 12 3 18 3 6 4 7 6 4 6 1 6 0 12-5 6-5 1-8-3-6-27-24-7-4-6-1zM1934 638l0 7 6 4 6 2 6 1 3-2 3-6 0-6-6-6-6-1-6 1zM1917 722l-7-5-6 0-6 2-12 10-6 3-6-1-12-6-24-17-3-4-4-18-5-7-6-3-6 2-4 2-3 6-1 6 3 18-1 6-12 22-4 14 0 6 8 36 2 3 6 2 12-2 12-5 6-4 15-18 21-18 12-11 24-7 7-6zM2090 758l-6-3-12-2-12 2-10 3-1 6 3 12 1 12-4 18-19 38-28 40-3 6-1 6 3 6 5 3 6-3 18-23 24-25 12-10 12-6 10-8 14-16 6-14 1-12-1-6-6-11zM1928 822l-4 2-4 6 1 6 13 17 6 5 5-4 1-6 0-6-4-12-3-6-5-2zM2498 886l-5 4-2 6-5 32-7 22 7 4 6 5 18 24 12 13 21 14 9 4 6-1 6-3 2-6-6-30 1-6 8-18 4-12 0-6-1-12-3-6-6-6-21-12-38-11zM2150 972l-12-1-6 2-12 6-6 7-1 12 1 6 6 7 12 5 6-1 12-6 11-11 2-6-4-12zM2318 1129l-6 3-4 4-3 6-1 6 1 6 3 6 4 5 6 3 6 1 6-1 6-3 9-11 0-12-3-6-6-5-6-3-6 0zM2024 1151l-6 3-2 6 5 48 11 54 7 30 2 6 7 8 6 2 6 0 5-4 5-6 11-18 9-20 14-28 5-18 0-6-3-6-16-17-6-3-23-10-31-20zM2198 1171l-6 5-2 8 2 6 6 6 6 0 7-6 1-6 0-6-8-7zM2410 1226l3 12 7 11 6 8 13 11 11 16 6 4 8-2 10-15 6-4 12-2 24 0 6-3 18-18 3-6-2-6-5-6-12-6-20-4-24-4-30-8-12 0-15 4-9 7-3 5zM2372 410l6 6 2 6 0 24-5 6-21 6-6-3-1-3 5-6 4-24 4-7 6-4zM2540 614l1-6 2-6 5-6 16-16 6-4 42-2 24 2 12 4 29 16 7 6 5 6 1 6-1 6-5 10-9 8-9 6-18 7-30 6-6-3-6-5-6-2-6 1-12 5-6 0-12-4-12-9-6-8-5-12zM2690 810l6-2 7 4 3 6-1 6-5 6-4 2-6 0-6-5-1-3 0-6zM2730 830l8-4 12-2 12 1 12 6 6 2 6-1 12-5 0 115-18-2-30-8-12-8-17-22-2-6 6-24-4-24 0-6 2-6z"/>
<path fill="#fc8b6b" d="M1748 554l21-6 21-14 18-6 5-4 5-6 2-6 0-6-3-18 0-6 4-6 5-2 30-5 24-11 6-6 3-12 3-4 6-6 6-1 18 9 18 13 6 3 6 1 18-6 18-3 9-6 6-12 5-6 4-2 12-1 6 1 3 2-1 12 2 6 7 6 13 4 12-2 2-2 0-6-2-3-6-7-16-14-8-10-6-10-1-10 3-18 10-24 6-7 6-4 18-9 12-2 42 10 36 18 24 5 6 4 6 5 12 16 6 5 6 2 18-2 6 1 6 6-1 6-15 18-1 6 1 6 10 13 12 9 6 2 24 4 18 8-3 6-6 6-2 6 1 6 4 8 6 5 6 2 12 0 18-3 33 0-12 12-2 6-2 18-4 6-31 28-12 4-18 4-9 6-3 6-2 12 1 12 2 6 5 6 6 2 6-1 18-10 6 0 6 2 9 7 9 20 6 8 18 11 18 13 12 8 12 16 6 2 18-2 19 2 10 6 4 6 1 6-2 6-6 12 0 6 2 12 5 12 4 6 31 36 10 26 6 6 12 6 6 0 18-10 6-1 6 3 12 14 7 4-1 4-2 2-10 3-12 13-6 3-6-1-12-4-18-1-24-5-6 1-6 3-5 6-12 24-2 6-1 12-3 6-7 8-22 16 1 6 8 6 19 10 6 1 18-2 6 3 6 4 18 20 6 5 18 11 24 13 18 13 6 6 7 18 8 12 39 32 6 3 6-1 17-16 13-7 12-1 12 4 12 10 8 12 5 18 4 30 1 4 4 2 8 1 6-3 6-5 18-25 6-5 6-3 6-1 0 239-77 0 3-12-1-6-4-6-41-38-12-7-12-1-6 1-3 3-3 6-3 12-1 6 6 42-717 0 10-90 6-30 13-48 23-54 0-6-3-8-6-5-12-8-2-3-2-6 0-24 6-48-2-6-6-5-12-4-6 0-8 3-16 21-6 3-4-6-8-17-5-7-7-6-12-7-6-6-6-11-2-12 15-36 3-6 26-8 4-4 3-6 0-6-2-6-11-10-8-2-28-16-12-2-12 2-5 4-7 9-6 0-4-3 0-6 4-12 1-6-1-6-11-24-1-6 2-6 4-5 6-5 6-2 18-5 6-3 4-4 5-6 9-18 6-5 18-6 12-12 6-3 6-1 18 2 6-2 6-9 12-25 24-22 6-2 6 1 12 11 6 4 12 2 6-3 4-14 4-6 14-12 4-6 2-6 0-6-4-8-26-34-22-9-24-3-18-6-6 2-28 22-4 6-6 18-9 12-2 6 7 7 18 1 6 2 2 2-3 6-10 12-7 6-18 8-18 11-6 1-6-2-17-12-4-6-7-18-4-6-6-6-10-5-18-1-18-6-6 0-6 4-12 14-6 4-6 2zM1884 506l0 6 1 6 4 6 6 6 9 5 6 1 12-1 18-4 13-7 5-6 3-6 3-12 0-6-2-6-4-4-6-2-42-1-6 1-12 10-6 8zM2174 507l-5 5-1 6 1 6 5 9 6 1 3-4 3-6 0-6-1-6-5-5zM1994 717l-6-2-6 2-5 5-11 30-1 6 5 12 6 6 6-1 12-23 6-5 5-1 1-6-8-18zM2030 717l-6 1-6 12-6 7-6 3 0 6 12 17 18 14 3 5 1 6 0 24-4 15-6 12-17 27-9 12-7 12 0 6 2 6 7 4 8-4 16-20 24-24 6-4 18-9 18-15 13-18 5-11 1-7 0-12-2-6-6-12-11-12-12-7-24-5-6-3-18-17zM1892 772l-6 5-12 22-15 19-3 12 0 6 3 6 27 18 6 3 12 3 6 2 12 18 24 18 6 0 6-5 1-3 0-6-3-12 0-6 6-24-8-36-4-6-10-5-12-2-12 1-5-12-4-6-9-7zM2012 779l-6 1-6 3-5 5-1 6 1 6 4 6 7 6 6-1 6-5 4-6 2-6-1-6-5-7zM2432 896l-6 0-6 1-6 5-11 12-13 9-6 8-2 7 2 9 6 9 6 4 6 1 6 1 11-6 2-6 4-18 15-24 0-6zM2112 992l1 12 4 6 9 5 6 2 12-3 12-7 8-9 2-6-6-12-4-5-6-4-6-1-12 1-12 7-7 8zM2355 992l5 3 6 0 3-3-3-2-6 0zM2263 1100l1 1 6-2 6-5-6-4-6 4zM2318 1127l-6 4-5 5-4 6 0 12 4 6 5 6 6 3 12 0 6-3 10-12 1-12-2-6-9-6-6-3zM2024 1149l-6 4-2 7 5 48 8 48 11 42 8 9 6 2 6 0 7-5 9-12 11-18 4-12 14-30 5-12 1-6-1-6-3-6-5-6-12-12-6-3-30-14-12-9-12-8zM2198 1169l-6 5-3 4 0 6 2 6 6 6 7 1 8-7 1-6 0-6-3-4-6-5zM2398 1214l-1 6 1 6 6 12 34 53 6 5 6 2 12 1 6-1 9-6 8-12 7-3 6-1 24 3 6-3 12-14 6-4 6 0 12 3 6 0 3-5 0-6-3-6-30-25-12-5-48-10-30-9-12-1-18 5-9 3-9 6zM1748 360l9 2 11 6 4 6 1 6-1 12-2 6-7 6-15 5zM1802 414l6 0 3 2 1 6-4 19-6 1-6-14 0-7 2-5zM1748 472l10 4 4 6 0 6-2 3-6 4-6 1zM2456 480l6-1 24 4 6 4 6 11 3 14-2 24 5 12 1 6-3 6-4 3-6 3-6 1-6-2-4-5-2-6 0-12-1-6-5-6-15-12-4-6-2-6 1-12 2-7zM2551 620l1-6 2-6 4-6 12-10 12-6 24-3 24 1 18 5 21 13 5 6 2 6 0 6-4 6-13 12-17 8-24 4-6-1-12-4-18 2-12-3-8-6-6-6-3-6zM1772 741l5 5-1 24-2 6-10 6-16 5 0-39 12-3zM2744 848l6-3 6 0 24 5 18-3 0 87-18-2-17-6-11-6-10-12-3-6-1-12 1-30 1-6zM2594 963l6 3 1 2 2 12-1 6-4 6-4 4-6 1-6-3-4-8 0-6 2-6 8-9z"/>
<path fill="#fb7e5e" d="M1748 562l30-7 18-9 18-8 6-4 10-10 3-6 1-6 0-18 2-6 2-2 6-3 12-1 12 2 5 4-3 30 1 6 5 6 10 8 12 6 12 3 12 1 12-2 12-6 12-8 18-29 24-19 6-2 18 6 6 0 12-2 18-7 6 0 6 1 6 3 6-2 2-11 1-18-1-18-17-30-19-18-4-6-1-6 2-12 3-6 4-6 6-4 6-1 6 0 10 5 5 6 2 6 0 6-4 24 0 6 5 6 12 9 7 15 5 6 6 5 6 1 6-1 6-6 7-11 2-6 0-6-7-12 0-6 4-3 18-8 12-11 6-1 6 3 6 5 19 27 11 24 18 28 3 2 9 3 30 2 12 4 3 3-3 12 1 6 2 6 9 9 6 2 24-1 9 2 3 24-2 6-9 12-11 12-8 6-30 7-9 5-3 6-2 12 1 18 3 12 3 6 7 6 6 0 6-1 18-10 6 0 8 5 10 22 6 8 23 12 13 12 8 12 1 6-3 8-12 12-3 4 0 6 2 6 7 6 6 1 6-2 12-14 12-7 12-4 6 0 3 2 4 6 2 12-1 24 2 6 20 15 17 15 9 12 1 6 0 6-3 11-6 3-1-2-11-4-6 1-4 3 1 6 3 5 6 4 6 2 6-7 6-4 13 12-1 2-6 2-12-1-6 4-12 15-6 3-48 3-9 2-8 6-10 12-9 9-6 8-5 13 0 24-1 6-5 6-19 9-3 3-2 6-1 6 2 6 4 5 6 3 24 4 6 0 6-3 2-3 7-18 3-3 6-3 12-1 12 1 12 4 6 5 12 15 6 2 6-1 12-8 6-2 6 1 6 4 17 16 32 18 28 18 4 6 6 18 5 6 34 23 24 21 6-1 16-19 8-6 6-3 12-1 6 1 6 3 6 5 6 7 6 12 4 18 0 36 2 6 6 3 12-3 6-3 6-6 18-29 6-6 6-3 6-1 0 234-75 0 2-12-1-6-4-6-42-39-12-6-12-2-6 1-5 4-3 6-1 6-2 12 6 42-715 0 10-90 6-30 13-48 21-48 2-12-1-6-3-4-18-12-3-8 0-24 5-48-1-6-7-6-6-2-12-2-6 1-10 9-2 4-6 5-4-3-14-27-6-5-12-8-7-8-1-6 0-6 6-18 5-18 4-6 11-3 6-3 6-6 4-6 2-15 6 3 6 4 12 14 6 5 12 3 6-2 13-36 0-6-3-18 1-6 6-18 1-6-1-12 1-7 6-1 6 6 4 8 8 6 12 3 5 3-3 12-16 24-2 6-1 6 2 6 3 3 6 3 6-2 9-10 3-6 12-12 6-5 30-17 18-15 15-17 9-12 5-12 2-12-1-10-6-13-12-16-12-10-32-17-6-6-7-12 0-6 2-6 14-18 3-12 0-6-3-6-11-18-5-12 1-6 2-8 9-16 0-6-3-4-24 5-12-1-13-12-17-12-12-5-6 2-60 44-6 7-2 6 2 18-3 6-3 3-12 5-4 4-1 6 2 12 3 12 3 6 1 6-4 7-6 4-6 1-9-6-9-9-18-27-12-9-6-2-36-9-6 0-6 3-6 4-12 13-6 4zM2138 472l-6 5-6 11-1 12 3 6 4 4 18 7 5 7 3 12 4 8 6 5 24 14 6-7 3-14 0-18 3-12 6-7 12-8 2-3 3-12 0-6-2-6-9-6-12-1-6 3-12 13-6 4-6 1-9-2-15-10-6-1zM2204 591l-6 7-2 10 4 24 4 6 6-2 6-5 7-11-1-7zM1846 620l1 6 9 11 6 2 8-1 3-6-1-6-4-8-6-3-6 0-6 2zM2111 992l1 12 4 6 4 4 12 4 18-5 6-4 11-11 1-6-2-6-8-12-8-5-6 0-12 1-12 7-8 9zM2288 1080l-6-4-6-2-6 1-6 3-11 10-13 16-6 5-12 6-4 3-1 6 2 6 9 12 6 4 6 0 6-4 30-30 17-12 3-6-1-6zM2385 1130l-6-6-12 0-11 6-2 4-6 1-12-8-6-1-12 0-6 3-7 7-3 6 0 12 3 6 7 8 6 3 12 0 6-3 9-8 9-23 6 2 17-3zM2064 1142l1 6 7 6 7 0 5-2 3-4 0-6-3-3-6-2-6 1zM2024 1148l-6 3-2 3-1 6 5 48 9 48 11 42 8 10 6 1 6 0 9-5 9-12 6-5 12-5 12-2-6-1-6-4-2-7 2-13 8-17 7-18 1-12-7-12-15-14-12-6-9-4-12-6-21-15-6-2zM2198 1167l-7 5-3 6 0 6 2 6 8 8 6 1 6-4 4-5 0-12-4-7-6-4zM2385 1208l-1 6 2 12 22 30 24 46 6 4 12 2 18-1 12-3 18-12 6 0 18 2 6-1 6-4 12-10 6-2 18 4 6-1 6-3 5-9 0-6-1-12-6-12-6-6-28-18-12-4-48-11-36-13-12-2-12 3-28 9-10 6zM2636 1185l-6 4-7 7-11 18-2 12 3 6 5 4 6 1 6-1 6-5 4-17 2-18 0-6zM1748 372l4 2 4 6-1 6-1 3-6 5zM2561 620l1-6 3-6 11-10 12-5 12-2 24 1 18 4 12 6 6 6 3 6 0 6-3 6-6 6-12 7-24 5-30-2-12-3-9-7-5-6zM1838 862l18-1 6 1 9 4 3 6-2 6-4 1-6-1-6-3-11-3-7-6zM2760 866l8-2 30 4 0 54-12-1-12-5-12-8-4-6-3-6-1-12 2-12z"/>
<path fill="#fb7151" d="M2162 424l6-1 6 1 4 4 3 6 1 6-2 6-5 6-7 3-12-2-6-3-3-4 0-6 3-6 6-6zM2248 476l4-2 12-3 12 0 12 2 2 3 3 12 3 6 10 10 24 5 4 3 2 12 0 8-4 10-10 12-9 6-7 2-36 4-5-6-4-18-14-24-3-12-2-18 2-6zM1982 514l12-6 24-4 24-1 12 3 29 12 4 6-3 3-6 15 6 6 6-1 9-5 2-6-4-12 0-6 5-6 6-3 29 15 6 6 3 12 3 6 7 6 19 12 5 6 4 6 2 12-3 18 3 18 0 6-6 18-2 6 2 2 24-6 12-7 12-13 8-12 0-6-3-6-11-14-4-10-3-12 1-12 6-5 6 2 18 11 15 4 3 4 6 50 6 15 6 8 6 2 6-1 24-9 6 3 6 9 6 14 6 7 20 6 8 6 5 6 2 6-1 6-15 18-3 6-1 6 3 12 5 6 7 6 12 4 12 0 6-1 6-3 6-12 5-6 7-1 2 1 3 6-1 6-10 12-2 6 1 6 2 6 5 7 26 11 0 6-8 11-2 7-1 6 4 18 0 6-3 6-10 7-12 3-24 1-12-3-6-4-6 2-2 12-9 18-5 18-8 18-4 18-8 9-6 9-2 24 3 12 5 6 6 2 30 5 12 1 6-3 4-5 6-12 6-6 8-2 6 0 6 2 6 4 14 14 10 6 12 3 24-1 18 9 24 10 22 15 7 6 4 6 2 12 4 6 10 6 23 11 18 11 14 14 10 15 6-1 11-20 7-9 6-5 12-5 12 2 6 3 8 8 7 12 1 6 2 18-3 30 0 12 3 10 6 6 6 1 6-3 6-5 12-14 18-33 6-7 6-3 6-1 0 229-74 0 3-12-2-6-4-6-43-40-6-4-18-5-6 2-6 5-4 6-1 18 6 42-100 0-9-7-6-4-6-1-6 1-6 2-14 9-567 0 3-36 4-24 3-30 6-30 12-48 22-48 2-12-1-6-4-6-18-12-2-6-1-18 6-54-1-6-2-3-6-4-18-4-6 1-7 4-5 6-6-2-12-29-11-17-3-30 1-12 5-6 8-3 12-10 6 3 12 14 6 3 18 4 6-1 6-5 2-5 14-42 1-6-2-18 1-6 3-6 5-3 6-2 12 2 3 3-3 10-10 14-2 12 1 6 5 5 6 2 6-2 6-5 12-14 6-4 12-1 6-5 48-45 12-15 6-12 4-12 2-12-3-12-9-14-12-16-12-12-5-6-2-6 0-6 6-12 2-6 1-6 3-6 11-6 15-6 4-6-1-6-5-6-29-18-6-2-12 0-4-4-1-6 6-24 1-12 0-12-2-12-6-4-30 9-6 0-12-2-18-7-20-14-5-6-2-6 2-6 3-6zM2179 686l-5-16-6-1-18 7-18 9-12 4-6 3-4 6 5 6 11 4 18-2 18 2 6 0 6-4 4-6 2-6zM2157 926l2 6 15 17 6 3 6 2 6-2 2-8-2-31-6-4-6 2-16 9zM2110 992l1 12 3 6 6 5 12 5 6-1 40-15 9-6-2-6-17-10-12-13-6-2-6-1-12 3-6 2-11 9-4 6zM2228 993l-7 5 1 6 6 17 6 3 3-8 1-6-1-6-3-7zM2282 1064l-6-1-12 4-6 4-18 19-6 5-6 2-18 3-7 6-3 12 0 12 3 6 14 18 11 10 6 3 6 0 6-6 12-19 12-12 12-10 18-8 5-6 2-6 0-6-2-6-3-6-8-10-6-5zM2414 1124l-6-6-18-4-12-1-12 2-12 2-12 8-18-1-12 2-10 10-1 6 0 12 2 6 9 10 12 2 12-1 12-11 6-4 12-1 34-13 8-6 5-6zM2018 1149l-3 5-1 6 2 30 6 42 13 54 4 12 3 5 6 6 12 1 6-1 12-11 6 0 12 1 6 3 12 8 6 2 6 1 7-3 4-6 0-6-3-6-20-28-6-3-6-1-2-4 2-10 9-20 2-6 0-12-1-6-22-22-14-8 2-5 12-3 4-4 5-6 4-12-2-6-4-6-7-4-12-1-24 6-7 5-5 6 0 7-18-3zM2650 1166l-2-7-40 43-5 6-9 20-6 0-14-8-28-13-12-3-24-4-30-9-16-7-20-11-6-1-6 0-24 10-12 2-12 0-18-9-6 0-6 5-5 10 1 6 16 17 10 19 20 20 8 10 10 24 7 24 4 6 12 12 8 12 5 4 6 1 5-5-1-18 8-4 60-13 24-11 42 1 8-3 4-12 2-18 4-4 18-3 6-3 6-7 2-13zM2198 1163l-6 4-4 5-1 12 2 6 3 4 6 5 6 1 7-4 4-6 1-12-1-6-5-5-6-4zM2292 1208l8 17 6 4 6-1 6-2 6-4 5-8 1-6-2-6-4-2-6-2-6 0-15 4zM1862 552l6-2 6-1 19 5 13 6 2 6-2 6-14 20-6 3-6 2-24-3-11-4-2-6 13-25zM1814 569l8 9 1 6-9 9-6 9-1 6 1 12-1 6-5 3-18 1-12 2-6 4-12 12-6 4 0-82 30-2 24-4 6 1zM2571 620l2-6 4-6 5-3 12-5 12-1 18 1 12 3 10 5 4 6 0 6-3 6-9 6-14 5-12 2-18-2-12-4-8-7z"/>
<path fill="#f96245" d="M2257 482l7-3 6-1 12 2 6 4 2 4 10 14 12 9 5 1 3 6 2 12-3 12-4 6-9 5-12 2-12-2-6-5-18-30-4-12-2-12 1-6zM1989 530l2-6 3-2 12-3 12 0 12 3 15 8 4 6-3 6-8 6-8 3-12 0-12-3-9-6-6-6zM2096 566l24-9 12-1 12 3 15 7 9 6 6 6 2 6 0 6-4 18 0 6 3 12 0 6-2 6-5 7-6 5-6 4-6 1-6-1-12-12-24-13-18-18-4-9 0-18 4-12zM1748 582l12 2 6 6 8 12 2 6-3 6-13 9-12 11zM2587 620l3-6 10-4 12-1 12 2 6 3 3 6-6 6-15 4-6 0-12-3zM2252 621l6 3 8 14 4 12-1 12-5 18 1 6 5 6 12 1 6-1 16-6 2-3 6 1 1 2 11 8 24 1 7 3 1 6-11 18-4 12 0 6 2 6 11 17 6 7 6 4 12 2 12 5 6 4 10 15 15 18 5 8 3 10 0 12-4 6-5 4-12 3-6 0-6-2-6-5-12-13-6-4-16-7-5-6-1-6 1-6 10-12 0-6-1-2-6-2-6 4-4 18-5 6-23 12-4 6 0 6 2 6 4 5 6 2 18-1 6 2 6 10 1 6-1 6-6 12-6 6-12 4-5 2-2 6-1 12 4 18-1 6-5 18 0 36 1 12 3 5 3 1 9 2 48 6 6-1 6-2 5-5 8-12 5-2 6 0 6 3 14 11 16 9 30 8 18 6 24 6 11 7 10 12 9 18 5 6 13 6 18 4 12 5 12 7 10 8 5 6 6 12 2 12-2 6-6 12-15 16-24 19-12 5-18 0-24-7-24-3-12-2-24-9-13-7-35-30-2-6 2-18-3-6-9-7-12-4-18-2-42 4-18 5-5-2-10-24-14-24-3-12-4-5-36 12-6 5-9 12-9 8-6 3-18 3-10 4-6 6-8 17-6 3-18-8-6-1-6 1-6 3-12 12-6 2-6-1-24-11-6-1-12 0-18 5-6 3-18 14-18 9-4 7-1 6 3 36 5 36 17 66 4 7 6 5 6 2 6 1 12-5 6 0 30 16 12-1 12-3 8-4 6-6 1-6-1-6-2-6-15-18-15-22-3-2-3-4 0-3 4-11 4-18 0-12-3-6-19-18 2-4 6-5 12-14 12-10 6-2 12 1 24 5 6 4 12 28 2 9 4 6 6 4 6 1 6-1 4-4 2-4 2-2 4-9 6 3 9 18 9 6 18 8 5 4 9 18 7 6 9 6 6 2 6 0 6-1 14-7 22-15 6 0 6 4 13 11 17 12 6 7 6 11 4 12 0 12-4 10-7 8 7 6 12 2 12 8 12 17 15 15 3 6-353 0-1-13-6-1-6 5-5 9-154 0 2-36 5-24 2-30 6-30 12-47 15-31 7-18 3-12-1-6-3-6-19-12-3-6-2-18 6-54-1-6-2-4-6-5-18-5-12 3-6-1-5-18-2-12 1-11 3-7 3-4 18-4 24-3 6-4 6-10 10-35 8-12 10 6 8 3 6-2 6-4 6-6 6-4 12 1 6-2 6-5 13-17 45-48 9-12 7-18 2-12-1-12-27-42-2-6 2-4 6-2 18 1 18-2 18 0 6-1 6-3 6-6 4-13 2-18 2-6 7-6 23-12 28-25zM2258 737l-5 9-1 6 2 6 15 24 7 15 6 6 6-3 15-24 1-6-1-6-16-18-11-7-12-4zM2134 902l-5 6-2 6 1 6 7 18 0 6-3 18-5 6-13 11-4 7-1 18 3 6 2 3 12 7 6 1 24-5 30-3 12 0 6 1 6 4 11 16 7 6 6 2 6-1 6-9 3-10 0-6-2-12-5-12-4-6-10-7-11-5-6-6-2-18-4-18 1-24-2-6-6-9-6-6-6-3-6 0-12 13-6 2-18-2zM1898 943l6-3 5 4 2 6-1 9-6 1-6-5-2-5zM2798 1145l0 225-73 0 4-12-2-6-4-6-45-41-6-4-18-6-6 1-6 4-4 4-1 6-2 18 7 42-78 0-2-6-4-7-11-11-1-6-2-18 1-6 7-6 12-3 24 1 24 8 6-1 4-5 1-18 3-6 16-19 6-14 2-15-1-24 2-18 6-30 4-30 4-12 8-12 11-7 6-2 6 0 6 1 6 4 8 10 5 12 2 12-5 42 2 18 6 14 6 4 6 2 6 0 6-4 12-20 11-26 7-14 9-10 3-2zM2298 1130l1 6-1 6 1 12 2 6 7 12-2 6-12 6-12 2-12-3-8-5-5-6-1-6 3-12 3-6 8-8 12-8 6-2z"/>
<path fill="#f5523b" d="M2264 490l6-3 6 0 6 2 6 4 16 19 2 6-1 6-5 10-6 3-6 0-6-3-12-11-6-10-2-7 0-12zM2108 578l6-6 12-4 6-1 12 2 9 3 9 6 4 6 1 6-1 6-4 9-6 9-6 3-6-2-12-7-17-12-6-6-2-6zM2252 636l6 5 3 9 0 12-5 24 1 6 3 6 4 5 6 1 24-2 12 2 15 6 5 6 0 6-8 13-6 6-6 2-6-1-30-18-6-2-6 0-6 5-6 11-5 14-1 12 0 6 12 11 6 10 3 9 9 18 2 6-2 4-2 2-16 2-5 4 1 6 3 6 7 6 15 12 9 6 18 8 6 4 4 6 2 12 0 42-2 18 2 24-1 12-4 12-13 18-12 11-12 6-6 1-6-2-2-4 0-6 1-18-8-24-7-12-15-12-5-5-3-7-3-24 5-18 0-6-3-6-14-18-6-6-12-8-30-9-6 3-6 7-5 13-4 6-9 11-5 7-2 6 0 6 3 18-2 30-10 12-1 6-1 18 1 6 11 11 12 3 12-2 36-1 18 2 6 3 12 14 15 12 5 6 1 6-2 6-7 7-30 9-18 13-6 2-30 0-6 2-12 7-6 2-30-6-12 0-12 3-6 3-18 19-6 4-12 5-6 4-5 10 2 42 3 18 2 18 4 14 11 46 5 12 8 7 6 3 12 0 6 2 11 18 1 6-2 6-7 12-5 12-138 0 2-34 4-14 2-36 6-33 12-47 17-34 10-30-1-6-3-6-5-4-14-8-4-6-2-18 6-54-1-6-3-6-6-4-6-2-6-3-11-3-4-6-4-12 0-6 1-4 6-6 6-2 24 1 6-2 6-8 12-45 6-12 6-3 12 2 6 0 12-5 18-1 6-2 6-6 18-27 43-48 8-12 6-12 6-18 0-12-2-6-9-12-6-12-1-6 1-6 8-3 12-2 24-2 12-5 6-5 6-11 6-25 5-7 20-12 23-17 6-3zM2214 776l-2 6 4 7 12 2 7-3 3-6 0-6-4-4-6-1-6 0zM2386 824l4-3 6 0 6 1 6 4 5 4 3 6 0 6-2 4-6 4-6-1-6-3-7-10-2-6zM2313 1052l2-6 8-12 7-5 6-2 12-1 30 3 12 0 12-3 12-7 6-1 30 13 30 11 18 8 24 5 6 3 6 6 12 18 12 12 12 5 30 6 15 7 9 8 8 10 3 12-2 12-7 12-14 14-12 7-18 6-12 3-12 0-42-4-12-3-24-11-9-6-6-6-5-6-9-18-3-18-4-6-6-6-12-7-18-5-18-2-30 3-12-3-18-10-6-5-6-7-6-12zM2684 1108l6-2 6 0 6 2 6 4 8 12 4 18-1 12-5 24 1 18 5 22 6 9 6 3 12 2 6-1 6-6 6-13 14-40 4-8 7-10 5-3 6-1 0 220-69 0 3-12-1-6-5-6-24-20-18-17-12-9-12-5-17-3 7-12 3-12 2-24-2-24 0-18 3-18 7-24 2-24 4-12 4-6 5-6zM2282 1147l6 1 3 6 1 6-2 6-2 3-6 4-6 0-6-4-2-3-1-6 3-7 6-5zM2120 1168l10-8 8-2 12 2 30 18 11 18 7 5 14 1 4 3 7 9 23 7 10 5 15 18 14 12 9 10 6 3 6 0 24-14 18-6 6 0 30 15 6 5 5 11 1 6-2 6-13 12-3 5-1 7 3 6 4 5 6 4 24 4 6 3 6 7 4 7 2 18-316 0 0-24 1-6 3-5 6-4 20-9 7-6 3-6 0-6-4-12-22-24-7-12-5-12-1-12 5-36 0-6-5-12 0-6zM2571 1328l4-6 7-3 12 1 18 7 6 0 12-5 2 6 4 8 5 34-68 0-4-30z"/>
<path fill="#f14331" d="M2276 500l6 0 7 6 3 6-2 6-2 2-6 0-7-8-2-6zM2132 583l6-4 6 1 8 4 3 6-3 6-2 2-6 0-4-2-6-6-3-6zM2246 645l6 3 3 8-1 12-3 18-2 24-7 18-8 17-6 7-18 16-6 9-3 11 3 8 18 9 7 7 1 6 1 18 5 12 5 6 29 24 24 9 4 3 5 6 2 12-7 36 0 30 2 18-2 12-7 12-9 9-6 4-6 0-20-49-4-6-14-12-4-7-1-11 1-6 9-12 4-6 0-6-2-6-5-9-19-21-29-21-12-5-12-2-6 1-6 3-6 6-12 24-13 18-5 10-3 14 2 24-1 18-6 18-4 24-12 6-6 5-12 19-6 18 0 14 5 16-20 30-9 10-6 4-16 4-2 2-6 16 2 48 4 18 1 18 5 13 2 11 4 12 3 18 5 12 4 5 6 5 10 2 8 6 3 12 0 6-2 6-13 19-8 5-110 0-1-18 4-24 3-42 4-28 9-32 3-16 6-14 11-18 11-30 2-12-2-6-9-6-13-5-6-8-1-11 0-12 6-48-1-6-4-9-14-9-5-12 1-6 6-2 24 1 6-3 4-8 1-24 4-24 3-9 5-9 7-3 12 1 18 5 6 0 6-3 12-12 22-36 37-42 10-12 9-18 10-30 0-6-13-18-2-6 3-6 8-3 24-4 12-5 6-6 7-12 8-24 3-6 6-6 36-22zM2223 1064l-7 7-18 4-36 13-24-2-24 7-24 1-6 0-9-6 15-32 6-4 12-4 18-15 13-5 11-1 24 0 18 3 7 4 18 18 4 6zM2324 1052l7-12 8-6 9-2 42 3 30-2 12 3 30 13 10 3 20 11 25 7 5 3 24 21 12 8 12 3 24 3 18 7 11 9 4 6 3 12-2 12-8 12-8 7-12 7-18 5-24 5-36-2-16-4-13-6-9-6-7-6-4-6-3-6-1-12 2-6 11-18 2-6 0-6-4-8-6-4-6-1-14 7-10 2-30-9-12-1-12-1-24 3-6-1-12-5-18-14-6-10-1-6zM2684 1112l6-2 6-1 6 2 8 7 5 12 2 18-6 30 1 18 2 16 6 18 6 5 18 4 6 0 6-2 7-11 14-48 3-8 6-10 6-5 6-1 0 216-35 0-2-6-5-6-6-4-18-7-12-8-14-11-28-26-7-4-5-3-7-3-1-6 3-6 1-6-7-54 1-24 11-36 1-18 2-12 7-12zM2132 1189l6-8 12-4 12 0 12 3 6 4 12 16 13 8 3 18 2 8 18-5 12 1 6 2 6 4 28 26 8 15 6 7 6 1 6-2 6-3 14-12 10-4 6-1 6 0 6 3 20 14 1 6-9 18-1 6 4 12 5 6 10 8 24 6 8 4 3 6 0 6-2 12-291 0-2-18 1-6 3-6 10-6 24-6 6-5 1-7-3-12-5-12-4-6-22-18-7-12-5-12-1-12 1-12 4-18zM2584 1340l4-5 6-2 24 3 12-3 6 8 4 29-61 0 2-18z"/>
<path fill="#e93529" d="M2246 655l3 7-1 12-7 36-7 21-6 9-18 19-8 11-6 12-5 18-4 6-10 12-9 12-18 17-6 7-6 9-10 21-13 18-7 16-3 14-2 30-7 28-12 12-18 44-2 12-1 30-4 12-7 12-10 14-12 7-20 3 0 18 2 12 1 36 3 30 8 25 10 41 8 16 12 8 3 6 1 6-2 6-5 6-15 9-6 7-4 8-62 0-6-6-16-12-2-6 5-24-1-36 2-18 12-53 6-14 12-17 12-37 6-11-2-6-11-6-17-7-4-5-2-5 0-25 5-42 0-6-4-12 2-6 20-18 8-12 2-6-2-18 1-12 2-12 3-6 5-5 6-1 6 2 12 7 6 1 6-3 18-18 6-8 11-23 8-12 10-12 27-30 14-18 6-12 14-36 0-7-4-11 4-6 18-9 12-10 7-11 11-26 6-10 30-19 6-2zM2210 831l6 7 3 10-2 6-7 3-7-3-4-6 0-6 4-6zM2258 888l30 6 6 5 2 3 1 6-2 12-8 18-4 18-9 18 10 18 1 6-3 7-6 2-6-3-6-12-2-12-3-6-15-12-6-6-2-6 1-6 13-18 2-12 1-24zM2121 1064l0-6 6-12 5-6 12-6 24 0 12 2 9 4 5 6 3 6-1 6-10 7-12 3-42 2-6-2zM2335 1052l3-6 4-3 6-3 6-1 18 0 42 4 10 3 9 6 4 6 2 6 0 12-3 6-4 2-36 0-24 2-12-1-12-7-9-8-4-6-1-6zM2482 1148l4-12 18-34 6-3 12-2 12 2 24 10 36 4 12 4 12 8 6 10 1 7-1 8-5 10-7 7-6 4-18 6-30 6-36-1-17-4-9-6-7-6-4-6-2-6zM2690 1113l6 0 6 2 6 6 4 9 2 6 0 12-6 24 0 18 6 40 6 11 6 3 24 3 6-1 6-4 6-14 8-38 6-18 4-7 5-5 7-1 0 211-25 0-1-6-10-12-12-7-30-9-12-8-30-29-9-7 4-12-1-6-6-17-7-31-1-12 0-12 4-18 9-24 1-18 2-12 2-6 5-6zM2134 1196l4-5 6-4 12-4 12 0 12 5 18 20 2 6-1 12-10 36 0 6 3 5 6 1 6-3 16-27 8-5 6-1 6 1 6 3 25 20 7 12 10 29 6 1 6-2 12-8 18-15 6-3 6 0 6 4 3 6 1 18 2 12 5 12 5 6 8 6 31 12 4 6 0 12-271 0-2-18 3-6 7-3 6-1 18 2 6-2 7-8 3-12-4-20-3-10-4-6-9-6-20-9-9-9-6-12-3-12 0-18 3-12zM2316 1340l1 6 7 6 6 0 6-6-1-6-5-3-6-2-6 2zM2585 1370l3-12 3-6 3-4 6-3 18-2 12-2 6 7 2 22z"/>
<path fill="#dd2924" d="M2240 662l3 6 0 12-6 24-9 24-24 30-23 42-19 23-18 24-8 13-12 24-10 14-6 12-6 16-9 36-9 24-9 30-9 24-3 12-2 30-3 12-12 24-4 6-6 5-12 2-18 0-12-2-30-13-3-4-2-6-1-12 6-54-1-12 1-6 4-6 20-22 15-26 10-12 6-6 17-12 24-27 6-9 9-18 7-12 47-54 11-18 16-36 7-18 4-6 13-13 6-8 18-39 6-6 18-11 6-2zM2282 906l2 2 0 6-7 12-6 24-7 7-6 1-5-2-4-6 1-6 13-18 5-18 2-1 6-2zM2348 1058l3-6 9-4 18-1 27 5 8 6 2 6-4 6-9 4-17 2-19 0-11-6-5-6zM2495 1154l0-6 2-6 7-10 6-6 12-8 12-3 30 3 24 0 12 2 10 4 6 6 3 6 1 6-1 6-3 6-10 10-12 5-36 8-30 0-18-4-10-7-4-6zM2690 1117l6 0 6 2 6 8 3 9 0 12-6 18-1 12 3 24 3 36 2 6 2 5 6 3 36 3 6-1 6-4 3-6 6-48 5-18 4-8 6-6 6-1 0 192-12-1-30-15-42-10-16-13-15-18 7-12 3-12-4-6-11-5-6-7-6-13-3-11-3-12 0-12 2-18 13-30 0-18 2-12 7-10zM2000 1142l6 3 1 3 4 24-2 36 1 18 4 12 4 8 12 40 4 24 2 24-2 6-15 30-47 0-15-18-4-6-2-6-4-48 1-24 4-22 12-38 13-12 4-6 4-24 3-11 6-10zM2156 1187l12 0 12 5 10 10 4 6 1 6-2 18-9 24-10 13-6 3-6 1-12-3-6-4-6-5-6-11-4-18 3-18 4-12 9-10zM2267 1268l4 6 3 12-3 24 1 6 10 18 1 6-3 6-5 6-15 12-5 6-87 0 1-6 17-22 4-8 4-24 3-6 15-18 6-12 7-18 3-4 6-3 6 1zM2592 1370l2-6 3-6 9-5 24-4 6 9 1 12zM2397 1370l-94 0 3-6 6 0 12 4 12 0 42-11 6 0 6 2 5 5z"/>
<path fill="#d11e1f" d="M2234 669l3 5 0 12-4 12-7 18-4 8-17 22-25 44-24 29-21 35-15 30-12 20-12 33-3 13-9 25-10 35-11 36-3 12-1 24-3 12-11 24-9 9-6 2-12 0-18-1-30-10-6-4-4-8-2-12 7-54 0-12 2-6 21-24 17-24 10-12 27-27 18-21 9-12 12-24 8-12 29-30 24-30 26-52 18-27 18-38 6-9 12-8 6-3zM2696 1121l6 3 6 12-1 12-7 18-1 6 6 30 1 30-3 12-3 6-4 4-6 2-6 0-6-2-6-7-4-9-5-18-1-18 4-15 12-21 2-6-1-18 2-12 3-4 6-5zM2506 1154l1-6 3-4 6-6 12-7 12-3 30 0 24-3 12 4 6 7 0 6-2 6-4 6-6 3-29 9-19 5-18 0-18-4-8-7zM2000 1149l6 5 2 12 1 12-3 17-6 7-3 0-2 6 7 18 16 27 6 19 5 26-2 36-6 18-8 18-34 0-19-24-4-12-6-42 1-30 7-28 6-15 6-7 18-5 5-5-5-18 0-18 6-14zM2798 1168l0 122-16 32-4 6-4 2-6 1-30-3-24-7-8-5-5-6-2-6 1-6 8-16 6-9 5-5 7-3 12-3 18 3 12 0 8-3 5-6-3-30 1-18 2-18 4-12 7-9zM2168 1191l12 5 6 6 4 6 1 6 0 12-3 12-10 18-4 5-6 4-6 2-6 0-6-2-6-3-5-6-4-6-3-12 0-18 4-12 8-11 6-4 6-2zM2258 1272l6 8 0 11-6 13-1 6 1 6 11 18 0 6-4 6-7 5-6 2-12 0-4 5-2 12-55 0 4-12 14-24 7-21 18-21 12-18 6-4 6-1zM2635 1370l-34 0 5-7 6-3 12-3 6 0z"/>
<path fill="#c5161c" d="M2228 678l2 2 1 6-1 6-8 18-12 15-6 4-6 3-2-4-1-6 4-12 5-12 6-10 6-6 6-4zM2186 751l1 7-1 6-12 18-6 5-4-5 4-10 12-17zM2144 821l1 3-5 12-20 42-12 20-12 32-35 116-5 42-4 12-9 18-7 8-6 2-6 0-18-1-36-11-6-3-3-7-2-12 1-18 6-48 3-6 21-24 18-24 54-60 9-12 13-24 12-16 36-36 6-5zM2696 1126l5 4 2 6 0 12-7 10-6 1-6-10 0-13 3-6 3-3zM2524 1154l2-6 8-6 6-1 12 0 5 1 6 6-1 6-8 6-8 2-12 0-5-2zM2000 1155l6 8 1 9-1 10-6 6-6-4-3-12 3-12zM2684 1171l6 0 6 8 6 17 2 18-1 12-3 12-4 7-6 4-6 0-6-2-7-9-5-13-2-17 1-12 5-12 8-10zM2798 1173l0 69-6 0-6-7-2-9-2-24 4-19 6-9zM2168 1194l6 2 6 4 6 8 2 6 0 12-6 18-8 12-6 4-6 2-6 1-6-2-6-3-6-8-4-12 1-18 3-10 6-9 6-4 6-3zM1976 1220l6 0 6 2 6 5 12 14 10 15 7 24 1 18-2 36-6 18-4 10-6 8-19 0-5-4-16-20-3-6-4-12-6-36 1-30 4-18 6-14 6-7zM2717 1304l1-6 6-6 8-4 12-3 24-5 6 2 5 4 0 6-5 13-6 6-12 7-12 1-17-3-8-6zM2234 1305l4 5 1 12-2 6-12 12-3 6 2 24-38 0 5-12 15-24 4-12 3-6 9-8 6-3z"/>
<path fill="#b81319" d="M2216 694l2 4-2 6-6 8-3-2 3-10zM2126 840l3 2-3 12-7 18-13 24-28 86-9 34-9 30-5 42-10 24-3 6-6 7-6 2-6 0-24-3-30-9-6-4-2-5-2-12 4-42 4-24 2-3 40-51 54-60 9-12 17-28 6-8zM2696 1135l1 7-1 3-6-3 2-6zM2000 1165l2 7-2 4-2-4 1-6zM2684 1177l6 2 5 5 3 6 3 12 1 12-2 12-4 11-6 6-6 1-6-3-6-7-5-14-1-12 2-12 4-10 6-7zM2798 1178l0 51-6 0-4-9-2-6-1-12 1-9 3-9 3-5zM2162 1197l6 0 6 3 6 5 4 9 1 12-4 12-7 13-6 5-6 2-6 1-6-2-8-7-5-12-1-12 3-12 5-8 6-6 6-2zM1976 1227l6 0 6 2 6 5 10 10 8 12 3 6 4 18 2 24-5 36-4 12-4 6-8 9-6 0-6-2-6-5-11-14-7-13-5-23-3-30 2-24 6-17 6-8zM2194 1370l4-8 6-6 6 2 4 12z"/>
<path fill="#ab1016" d="M2114 862l1 4-1 6-9 18-4 18-11 30-12 38-19 70-6 42-9 24-8 11-6 3-6 0-24-4-30-8-6-5-1-3-2-12 3-40 6-26 3-6 35-42 58-66 30-43 6-6 6-3zM2684 1181l6 2 6 7 2 6 2 12-1 12-3 9-6 8-6 1-6-2-6-9-2-7-2-12 2-12 2-6 6-7zM2798 1184l0 35-6-2-3-15 0-6 3-9zM2168 1201l6 3 4 4 3 6 1 6-1 12-6 12-6 6-7 4-6 1-6-2-6-5-2-4-3-12 1-12 4-9 6-7 6-3 6-1zM1976 1234l6-1 6 2 12 10 6 8 5 9 5 18 1 30-5 30-6 14-6 5-6 2-6-3-6-4-10-14-6-12-6-24-2-24 3-24 4-12 5-6z"/>
<path fill="#9b0c14" d="M2102 876l2 2-3 12-2 18-9 25-13 41-20 72-5 42-9 24-7 9-6 3-6 1-24-4-30-8-6-7-2-6 0-12 2-30 7-30 4-6 34-42 59-66 22-28 3-2 3-5zM2684 1184l6 2 3 4 3 7 2 11-2 12-2 6-4 5-6 3-6-3-6-11-2-12 2-12 3-6 3-4zM2162 1203l6 1 6 4 3 6 2 12-4 12-4 6-9 6-6 1-6-2-6-7-3-10 0-6 3-10 6-8 6-3zM1982 1239l6 1 6 5 10 11 6 12 3 18 1 24-4 24-5 12-5 6-6 2-6-2-6-4-10-14-6-18-4-18-1-24 3-18 6-12 6-5z"/>
<path fill="#860711" d="M2096 892l2 10 0 6-9 24-14 42-17 66-7 48-10 24-5 8-6 3-6 0-24-4-30-8-6-6-2-11 2-31 6-28 3-7 38-48 59-66 14-17 6-5zM2684 1187l6 3 3 6 2 12-2 12-3 6-6 3-6-4-5-11-1-6 2-12 4-6zM2162 1207l6 1 6 6 2 6 0 6-2 7-6 10-6 3-6 1-6-2-4-7-2-6 0-6 1-6 5-7 6-5zM1982 1244l6 1 6 5 6 7 6 11 4 18 1 24-3 18-2 7-6 10-6 3-6-2-6-5-6-7-7-18-4-18-1-18 2-18 5-12 5-5z"/>
<path fill="#71020e" d="M2091 896l5 4 0 8-20 60-20 72-7 48-9 24-4 6-6 4-6 0-22-4-26-6-6-2-4-4-2-6-1-24 7-37 4-11 50-60 60-68zM2684 1190l7 6 2 12-3 12-6 4-6-5-3-11 2-12zM2162 1211l7 3 3 6 0 6-1 6-4 6-5 4-6 1-6-5-3-6 0-6 2-6 4-6 3-2zM1982 1249l6 2 6 5 5 6 5 12 3 12 1 18-2 18-6 15-6 4-6-1-6-5-5-7-7-17-2-13-1-18 2-18 7-11z"/>
</g>
<path d="M877,41.1H1396.5M877,145.1H1396.5M877,252.6H1396.5M877,365.4H1396.5M877,485.2H1396.5M877,614.5H1396.5M893.5,7.2V684.2M994.1,7.2V684.2M1094.7,7.2V684.2M1195.4,7.2V684.2M1296,7.2V684.2" fill="none" stroke="#000" stroke-width="0.7" stroke-opacity="0.22" stroke-dasharray="1.2 1.6"/>
<polygon fill="#000" points="877,7.2 1297.2,6 1297.2,8.4 1288.8,18.5 1278.7,30 1270.2,42 1260.2,53.7 1248.2,64 1245.9,74 1245.1,87 1245.9,100.8 1245.9,117.6 1244.2,130 1243.2,141.8 1237.5,146.8 1236.6,163.6 1228.2,178.7 1220.7,193.8 1214.8,202.2 1213.1,215.7 1198.8,225.7 1196.2,232.5 1188.8,234 1168.6,235.8 1155.2,235 1153.5,240.9 1146.8,241.7 1140.1,250 1133.2,248.4 1124.9,252.6 1116.5,257.6 1108.2,264.4 1098.8,271.8 1087.1,286 1086.2,310.4 1087.1,327.2 1082.9,338.9 1072,347.3 1065.2,359 1058.5,370.8 1053.5,386 1049.2,390 1039.2,400 1025.7,411.8 1019,423.6 1010.6,433.7 1003.9,442 1000.5,452 992.2,458.9 978.7,463 958.5,463 948.5,458.9 940.1,453.8 930,453.8 921.6,447 919.9,451.3 923.2,458.9 935,465.6 941.7,472.3 938.4,482.4 943.4,490.8 949.2,495.8 948.5,505.9 941.7,517.6 939.7,520 935.9,527.6 924.5,537 909.2,542.8 894,545.7 878.8,547.6 876.2,548 877,548"/>
<path d="M1303,6L1288,24L1274.7,40L1261,53.8L1249,64.5L1246.5,80.6L1249,99.5L1253,107.5L1261,110L1264,118L1253,121L1252,129L1261,137L1274.7,142.5L1277.4,149L1266.7,156L1264,166.7L1250.5,172L1234.4,180L1229,193.5L1226,207L1230,214.6L1215.4,232L1203.8,246.6L1180.5,252.4L1157.2,258.2L1145.6,275.7L1128,290L1119.4,304.8L1110.6,319.4L1110.6,334L1099,348.5L1093,371.8L1072.8,392L1058,415.4L1049.5,433L1033,450.4L1006.8,488L986.4,508.6L976.3,526L969,552.3L957.3,581.4L934,616.3L907.8,642.5L896.2,657L893.3,684M1307,6L1299,24L1285.5,40L1272,53.8L1261,70L1258.6,88.7L1264,107.5L1269,121L1285.5,126L1272,134.4L1277.4,145L1266.7,158.6L1264,172L1274.7,185.5L1293.5,185.5L1307,193.5L1285,192L1261,193.5L1256,204L1250.4,217.5L1238.7,235L1230,249.5L1221,267L1218.3,284.4L1218.3,302L1203.8,310.6L1192,322.3L1186.3,331L1174.7,325.2L1157.2,319.4L1142.6,325.2L1135.4,339.7L1131,363L1122.3,374.7L1101.9,389.2L1090.2,403.8L1084.4,424.2L1073.8,444.6L1050.5,459L1036,476.6L1018.5,502.8L1001,529L992.3,555.2L980.6,578.5L966,596L951.5,616.3L942.8,633.8L934,651.3L928.2,671.6L923.9,684M1267.8,371.8L1276.6,357.2L1291,358.7L1305.7,363L1320,350L1332,354.3L1337.7,366L1349.3,374.7L1366.8,386.3L1368.3,395L1352.3,403.8L1334.8,400.9L1320,406.7L1302.8,409.6L1297,415.4L1288,400.9L1279.5,392L1267.8,392L1262,380.5ZM1340.6,342.6L1349.3,336.8L1362,341L1378.5,332.5L1394.5,339.7L1396,350L1378.5,352.8L1369.7,345.6L1358,351.4L1346.4,350ZM1210,326L1218,319L1227,322L1226,331L1216,334ZM1368.9,431.8L1380.1,428.4L1391.2,430.7L1395.1,429.6L1395.1,445.2L1389,443L1380.1,436.3L1371.1,435.2ZM1355.4,441.9L1364.4,439.6L1377.8,445.2L1386.8,452L1395.1,456.4L1395.1,464.3L1389,465.4L1382.3,460.9L1375.6,458.7L1380.1,454.2L1368.9,447.5L1359.9,445.2Z" fill="none" stroke="#101010" stroke-width="0.9" stroke-opacity="0.9" stroke-linejoin="round"/><circle cx="1316.4" cy="192.2" r="4" fill="none" stroke="#101010" stroke-width="0.9" stroke-opacity="0.9"/><circle cx="1331" cy="197.6" r="3" fill="none" stroke="#101010" stroke-width="0.9" stroke-opacity="0.9"/><circle cx="1364.8" cy="193.5" r="3.5" fill="none" stroke="#101010" stroke-width="0.9" stroke-opacity="0.9"/><circle cx="1296" cy="143" r="4" fill="none" stroke="#101010" stroke-width="0.9" stroke-opacity="0.9"/><circle cx="1278" cy="222" r="2" fill="none" stroke="#101010" stroke-width="0.9" stroke-opacity="0.9"/><circle cx="1270" cy="224" r="2.2" fill="none" stroke="#101010" stroke-width="0.9" stroke-opacity="0.9"/><circle cx="1244" cy="326" r="2.5" fill="none" stroke="#101010" stroke-width="0.9" stroke-opacity="0.9"/><circle cx="1232" cy="304" r="2" fill="none" stroke="#101010" stroke-width="0.9" stroke-opacity="0.9"/>
</g>
<rect x="85.8" y="7.2" width="519.5" height="677" fill="none" stroke="#000" stroke-width="2.6"/>
<path d="M85.8,41.1h6M605.3,41.1h-6M85.8,145.1h6M605.3,145.1h-6M85.8,252.6h6M605.3,252.6h-6M85.8,365.4h6M605.3,365.4h-6M85.8,485.2h6M605.3,485.2h-6M85.8,614.5h6M605.3,614.5h-6M102.3,684.2v-6.5M202.9,684.2v-6.5M303.5,684.2v-6.5M404.2,684.2v-6.5M504.8,684.2v-6.5" stroke="#000" stroke-width="2" fill="none"/>
<rect x="877" y="7.2" width="519.5" height="677" fill="none" stroke="#000" stroke-width="2.6"/>
<path d="M877,41.1h6M1396.5,41.1h-6M877,145.1h6M1396.5,145.1h-6M877,252.6h6M1396.5,252.6h-6M877,365.4h6M1396.5,365.4h-6M877,485.2h6M1396.5,485.2h-6M877,614.5h6M1396.5,614.5h-6M893.5,684.2v-6.5M994.1,684.2v-6.5M1094.7,684.2v-6.5M1195.4,684.2v-6.5M1296,684.2v-6.5" stroke="#000" stroke-width="2" fill="none"/>
<g font-family="'Liberation Serif', 'DejaVu Serif', serif" font-weight="bold" fill="#000" font-size="35.5">
<text y="56.8"><tspan x="3.6" textLength="38.6" lengthAdjust="spacingAndGlyphs">12</tspan><tspan x="42.2" dy="-17.4" font-size="29.5" textLength="16.2" lengthAdjust="spacingAndGlyphs">o</tspan><tspan x="58.5" dy="17.4" textLength="20.8" lengthAdjust="spacingAndGlyphs">S</tspan></text>
<text y="160.8"><tspan x="3.6" textLength="38.6" lengthAdjust="spacingAndGlyphs">18</tspan><tspan x="42.2" dy="-17.4" font-size="29.5" textLength="16.2" lengthAdjust="spacingAndGlyphs">o</tspan><tspan x="58.5" dy="17.4" textLength="20.8" lengthAdjust="spacingAndGlyphs">S</tspan></text>
<text y="268.3"><tspan x="3.6" textLength="38.6" lengthAdjust="spacingAndGlyphs">24</tspan><tspan x="42.2" dy="-17.4" font-size="29.5" textLength="16.2" lengthAdjust="spacingAndGlyphs">o</tspan><tspan x="58.5" dy="17.4" textLength="20.8" lengthAdjust="spacingAndGlyphs">S</tspan></text>
<text y="381.1"><tspan x="3.6" textLength="38.6" lengthAdjust="spacingAndGlyphs">30</tspan><tspan x="42.2" dy="-17.4" font-size="29.5" textLength="16.2" lengthAdjust="spacingAndGlyphs">o</tspan><tspan x="58.5" dy="17.4" textLength="20.8" lengthAdjust="spacingAndGlyphs">S</tspan></text>
<text y="500.9"><tspan x="3.6" textLength="38.6" lengthAdjust="spacingAndGlyphs">36</tspan><tspan x="42.2" dy="-17.4" font-size="29.5" textLength="16.2" lengthAdjust="spacingAndGlyphs">o</tspan><tspan x="58.5" dy="17.4" textLength="20.8" lengthAdjust="spacingAndGlyphs">S</tspan></text>
<text y="630.2"><tspan x="3.6" textLength="38.6" lengthAdjust="spacingAndGlyphs">42</tspan><tspan x="42.2" dy="-17.4" font-size="29.5" textLength="16.2" lengthAdjust="spacingAndGlyphs">o</tspan><tspan x="58.5" dy="17.4" textLength="20.8" lengthAdjust="spacingAndGlyphs">S</tspan></text>
<text y="722.5"><tspan x="60.9" textLength="38.6" lengthAdjust="spacingAndGlyphs">60</tspan><tspan x="101.1" dy="-17.4" font-size="29.5" textLength="16.2" lengthAdjust="spacingAndGlyphs">o</tspan><tspan x="115.4" dy="17.4" textLength="36.7" lengthAdjust="spacingAndGlyphs">W</tspan></text>
<text y="722.5"><tspan x="161.5" textLength="38.6" lengthAdjust="spacingAndGlyphs">54</tspan><tspan x="201.7" dy="-17.4" font-size="29.5" textLength="16.2" lengthAdjust="spacingAndGlyphs">o</tspan><tspan x="216" dy="17.4" textLength="36.7" lengthAdjust="spacingAndGlyphs">W</tspan></text>
<text y="722.5"><tspan x="262.1" textLength="38.6" lengthAdjust="spacingAndGlyphs">48</tspan><tspan x="302.3" dy="-17.4" font-size="29.5" textLength="16.2" lengthAdjust="spacingAndGlyphs">o</tspan><tspan x="316.6" dy="17.4" textLength="36.7" lengthAdjust="spacingAndGlyphs">W</tspan></text>
<text y="722.5"><tspan x="362.8" textLength="38.6" lengthAdjust="spacingAndGlyphs">42</tspan><tspan x="403" dy="-17.4" font-size="29.5" textLength="16.2" lengthAdjust="spacingAndGlyphs">o</tspan><tspan x="417.3" dy="17.4" textLength="36.7" lengthAdjust="spacingAndGlyphs">W</tspan></text>
<text y="722.5"><tspan x="463.4" textLength="38.6" lengthAdjust="spacingAndGlyphs">36</tspan><tspan x="503.6" dy="-17.4" font-size="29.5" textLength="16.2" lengthAdjust="spacingAndGlyphs">o</tspan><tspan x="517.9" dy="17.4" textLength="36.7" lengthAdjust="spacingAndGlyphs">W</tspan></text>
<text y="722.5"><tspan x="564" textLength="38.6" lengthAdjust="spacingAndGlyphs">30</tspan><tspan x="604.2" dy="-17.4" font-size="29.5" textLength="16.2" lengthAdjust="spacingAndGlyphs">o</tspan><tspan x="618.5" dy="17.4" textLength="36.7" lengthAdjust="spacingAndGlyphs">W</tspan></text>
<text y="56.8"><tspan x="794.8" textLength="38.6" lengthAdjust="spacingAndGlyphs">12</tspan><tspan x="833.4" dy="-17.4" font-size="29.5" textLength="16.2" lengthAdjust="spacingAndGlyphs">o</tspan><tspan x="849.7" dy="17.4" textLength="20.8" lengthAdjust="spacingAndGlyphs">S</tspan></text>
<text y="160.8"><tspan x="794.8" textLength="38.6" lengthAdjust="spacingAndGlyphs">18</tspan><tspan x="833.4" dy="-17.4" font-size="29.5" textLength="16.2" lengthAdjust="spacingAndGlyphs">o</tspan><tspan x="849.7" dy="17.4" textLength="20.8" lengthAdjust="spacingAndGlyphs">S</tspan></text>
<text y="268.3"><tspan x="794.8" textLength="38.6" lengthAdjust="spacingAndGlyphs">24</tspan><tspan x="833.4" dy="-17.4" font-size="29.5" textLength="16.2" lengthAdjust="spacingAndGlyphs">o</tspan><tspan x="849.7" dy="17.4" textLength="20.8" lengthAdjust="spacingAndGlyphs">S</tspan></text>
<text y="381.1"><tspan x="794.8" textLength="38.6" lengthAdjust="spacingAndGlyphs">30</tspan><tspan x="833.4" dy="-17.4" font-size="29.5" textLength="16.2" lengthAdjust="spacingAndGlyphs">o</tspan><tspan x="849.7" dy="17.4" textLength="20.8" lengthAdjust="spacingAndGlyphs">S</tspan></text>
<text y="500.9"><tspan x="794.8" textLength="38.6" lengthAdjust="spacingAndGlyphs">36</tspan><tspan x="833.4" dy="-17.4" font-size="29.5" textLength="16.2" lengthAdjust="spacingAndGlyphs">o</tspan><tspan x="849.7" dy="17.4" textLength="20.8" lengthAdjust="spacingAndGlyphs">S</tspan></text>
<text y="630.2"><tspan x="794.8" textLength="38.6" lengthAdjust="spacingAndGlyphs">42</tspan><tspan x="833.4" dy="-17.4" font-size="29.5" textLength="16.2" lengthAdjust="spacingAndGlyphs">o</tspan><tspan x="849.7" dy="17.4" textLength="20.8" lengthAdjust="spacingAndGlyphs">S</tspan></text>
<text y="722.5"><tspan x="852.1" textLength="38.6" lengthAdjust="spacingAndGlyphs">60</tspan><tspan x="892.3" dy="-17.4" font-size="29.5" textLength="16.2" lengthAdjust="spacingAndGlyphs">o</tspan><tspan x="906.6" dy="17.4" textLength="36.7" lengthAdjust="spacingAndGlyphs">W</tspan></text>
<text y="722.5"><tspan x="952.7" textLength="38.6" lengthAdjust="spacingAndGlyphs">54</tspan><tspan x="992.9" dy="-17.4" font-size="29.5" textLength="16.2" lengthAdjust="spacingAndGlyphs">o</tspan><tspan x="1007.2" dy="17.4" textLength="36.7" lengthAdjust="spacingAndGlyphs">W</tspan></text>
<text y="722.5"><tspan x="1053.3" textLength="38.6" lengthAdjust="spacingAndGlyphs">48</tspan><tspan x="1093.5" dy="-17.4" font-size="29.5" textLength="16.2" lengthAdjust="spacingAndGlyphs">o</tspan><tspan x="1107.8" dy="17.4" textLength="36.7" lengthAdjust="spacingAndGlyphs">W</tspan></text>
<text y="722.5"><tspan x="1154" textLength="38.6" lengthAdjust="spacingAndGlyphs">42</tspan><tspan x="1194.2" dy="-17.4" font-size="29.5" textLength="16.2" lengthAdjust="spacingAndGlyphs">o</tspan><tspan x="1208.5" dy="17.4" textLength="36.7" lengthAdjust="spacingAndGlyphs">W</tspan></text>
<text y="722.5"><tspan x="1254.6" textLength="38.6" lengthAdjust="spacingAndGlyphs">36</tspan><tspan x="1294.8" dy="-17.4" font-size="29.5" textLength="16.2" lengthAdjust="spacingAndGlyphs">o</tspan><tspan x="1309.1" dy="17.4" textLength="36.7" lengthAdjust="spacingAndGlyphs">W</tspan></text>
<text y="722.5"><tspan x="1355.2" textLength="38.6" lengthAdjust="spacingAndGlyphs">30</tspan><tspan x="1395.4" dy="-17.4" font-size="29.5" textLength="16.2" lengthAdjust="spacingAndGlyphs">o</tspan><tspan x="1409.7" dy="17.4" textLength="36.7" lengthAdjust="spacingAndGlyphs">W</tspan></text>
</g>
<g font-family="'Liberation Serif', 'DejaVu Serif', serif" fill="#fff" stroke="#fff" stroke-width="0.35" font-size="34">
<text x="157.4" y="67.4" textLength="28.8" lengthAdjust="spacingAndGlyphs">a)</text><text x="941.2" y="66.2" textLength="29.7" lengthAdjust="spacingAndGlyphs">b)</text></g>
<text font-family="'Liberation Serif', 'DejaVu Serif', serif" font-weight="bold" font-size="48" x="352" y="359.3" stroke="#000" stroke-width="0.9" textLength="63.5" lengthAdjust="spacingAndGlyphs">BC</text>
<text font-family="'Liberation Serif', 'DejaVu Serif', serif" font-weight="bold" font-size="37" fill="#fff" stroke="#fff" stroke-width="0.6" x="92" y="585.7" textLength="58.5" lengthAdjust="spacingAndGlyphs">MC</text>
<rect x="86.2" y="760.0" width="520" height="59.200000000000045" fill="url(#ga)" stroke="#2a2a2a" stroke-width="1.2"/>
<rect x="877.4" y="760.0" width="520" height="59.200000000000045" fill="url(#gb)" stroke="#2a2a2a" stroke-width="1.2"/>
<path d="M239.2,819.2v-5.5M392.1,819.2v-5.5M545,819.2v-5.5M981.3,819.2v-5.5M1085.2,819.2v-5.5M1189.1,819.2v-5.5M1293,819.2v-5.5" stroke="#2a2a2a" stroke-width="1.2" fill="none"/>
<g font-family="'Liberation Serif', 'DejaVu Serif', serif" font-weight="bold" fill="#262626" font-size="29" text-anchor="middle">
<text x="88.1" y="852" textLength="34.5" lengthAdjust="spacingAndGlyphs">10</text>
<text x="240.4" y="852" textLength="34.5" lengthAdjust="spacingAndGlyphs">15</text>
<text x="392.2" y="852" textLength="34.5" lengthAdjust="spacingAndGlyphs">20</text>
<text x="545" y="852" textLength="34.5" lengthAdjust="spacingAndGlyphs">25</text>
<text x="877.6" y="852" textLength="16.2" lengthAdjust="spacingAndGlyphs">0</text>
<text x="980.9" y="852" textLength="41.2" lengthAdjust="spacingAndGlyphs">0.1</text>
<text x="1085.7" y="852" textLength="41.7" lengthAdjust="spacingAndGlyphs">0.2</text>
<text x="1189" y="852" textLength="41.7" lengthAdjust="spacingAndGlyphs">0.3</text>
<text x="1293.4" y="852" textLength="41.7" lengthAdjust="spacingAndGlyphs">0.4</text>
<text x="1396.9" y="852" textLength="41.7" lengthAdjust="spacingAndGlyphs">0.5</text>
<text x="345.6" y="882.4" font-size="30" textLength="313" lengthAdjust="spacingAndGlyphs">mean temperature (°C)</text>
<text x="1137.3" y="882.4" font-size="30" textLength="137.6" lengthAdjust="spacingAndGlyphs">°C/decade</text>
</g>
</svg>
</body></html>
